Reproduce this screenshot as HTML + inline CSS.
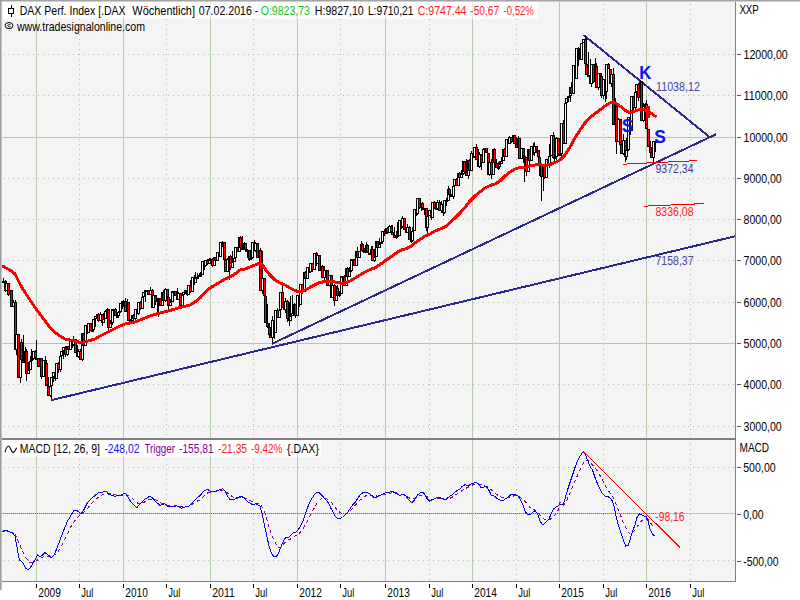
<!DOCTYPE html><html><head><meta charset="utf-8"><style>html,body{margin:0;padding:0;background:#fff}body{width:800px;height:600px;overflow:hidden}</style></head><body><svg width="800" height="600" viewBox="0 0 800 600" style="display:block;font-family:'Liberation Sans',sans-serif">
<rect width="800" height="600" fill="#ffffff"/>
<rect x="2" y="2" width="733" height="579" fill="#f4f4f4"/>
<rect x="3" y="2" width="534.5" height="16.5" fill="#ffffff"/>
<rect x="3" y="440" width="318" height="16.5" fill="#ffffff"/>
<g shape-rendering="crispEdges">
<rect x="36" y="2" width="1" height="579" fill="#b4c9ae"/>
<rect x="123" y="2" width="1" height="579" fill="#b4c9ae"/>
<rect x="210" y="2" width="1" height="579" fill="#b4c9ae"/>
<rect x="297" y="2" width="1" height="579" fill="#b4c9ae"/>
<rect x="385" y="2" width="1" height="579" fill="#b4c9ae"/>
<rect x="472" y="2" width="1" height="579" fill="#b4c9ae"/>
<rect x="559" y="2" width="1" height="579" fill="#b4c9ae"/>
<rect x="646" y="2" width="1" height="579" fill="#b4c9ae"/>
<line x1="79.5" y1="4" x2="79.5" y2="581" stroke="#a6c29f" stroke-width="1" stroke-dasharray="1 4"/>
<line x1="166.5" y1="4" x2="166.5" y2="581" stroke="#a6c29f" stroke-width="1" stroke-dasharray="1 4"/>
<line x1="253.5" y1="4" x2="253.5" y2="581" stroke="#a6c29f" stroke-width="1" stroke-dasharray="1 4"/>
<line x1="340.5" y1="4" x2="340.5" y2="581" stroke="#a6c29f" stroke-width="1" stroke-dasharray="1 4"/>
<line x1="429.5" y1="4" x2="429.5" y2="581" stroke="#a6c29f" stroke-width="1" stroke-dasharray="1 4"/>
<line x1="516.5" y1="4" x2="516.5" y2="581" stroke="#a6c29f" stroke-width="1" stroke-dasharray="1 4"/>
<line x1="603.5" y1="4" x2="603.5" y2="581" stroke="#a6c29f" stroke-width="1" stroke-dasharray="1 4"/>
<line x1="690.5" y1="4" x2="690.5" y2="581" stroke="#a6c29f" stroke-width="1" stroke-dasharray="1 4"/>
<line x1="3" y1="54.5" x2="735" y2="54.5" stroke="#a6c29f" stroke-width="1" stroke-dasharray="1 4"/>
<line x1="3" y1="95.5" x2="735" y2="95.5" stroke="#a6c29f" stroke-width="1" stroke-dasharray="1 4"/>
<rect x="2" y="137" width="733" height="1" fill="#b4c9ae"/>
<line x1="3" y1="178.5" x2="735" y2="178.5" stroke="#a6c29f" stroke-width="1" stroke-dasharray="1 4"/>
<line x1="3" y1="219.5" x2="735" y2="219.5" stroke="#a6c29f" stroke-width="1" stroke-dasharray="1 4"/>
<line x1="3" y1="260.5" x2="735" y2="260.5" stroke="#a6c29f" stroke-width="1" stroke-dasharray="1 4"/>
<line x1="3" y1="302.5" x2="735" y2="302.5" stroke="#a6c29f" stroke-width="1" stroke-dasharray="1 4"/>
<rect x="2" y="343" width="733" height="1" fill="#b4c9ae"/>
<line x1="3" y1="384.5" x2="735" y2="384.5" stroke="#a6c29f" stroke-width="1" stroke-dasharray="1 4"/>
<line x1="3" y1="426.5" x2="735" y2="426.5" stroke="#a6c29f" stroke-width="1" stroke-dasharray="1 4"/>
<line x1="3" y1="467.5" x2="735" y2="467.5" stroke="#a6c29f" stroke-width="1" stroke-dasharray="1 4"/>
<rect x="2" y="513" width="733" height="1" fill="#b4c9ae"/>
<line x1="3" y1="513.5" x2="656" y2="513.5" stroke="#707070" stroke-width="1" stroke-dasharray="1 1"/>
<line x1="3" y1="560.5" x2="735" y2="560.5" stroke="#a6c29f" stroke-width="1" stroke-dasharray="1 4"/>
</g>
<rect x="3" y="2" width="534.5" height="16.5" fill="#ffffff" opacity="0.7"/>
<rect x="3" y="440" width="318" height="16.5" fill="#ffffff" opacity="0.7"/>
<g stroke="#28288e" stroke-width="2" stroke-linecap="butt" fill="none" shape-rendering="crispEdges">
<line x1="51" y1="400.2" x2="735" y2="236.3"/>
<line x1="272" y1="343.8" x2="716" y2="134.3"/>
<line x1="583.5" y1="35" x2="709" y2="136.6"/>
</g>
<g shape-rendering="crispEdges">
<rect x="3" y="278" width="1" height="5" fill="#000"/>
<rect x="2" y="281" width="3" height="2" fill="#000"/>
<rect x="5" y="280" width="1" height="12" fill="#000"/>
<rect x="4" y="281" width="3" height="10" fill="#000"/>
<rect x="5" y="282" width="1" height="8" fill="#ff0000"/>
<rect x="6" y="283" width="1" height="8" fill="#000"/>
<rect x="5" y="283" width="3" height="8" fill="#000"/>
<rect x="6" y="284" width="1" height="6" fill="#ffffff"/>
<rect x="8" y="283" width="1" height="13" fill="#000"/>
<rect x="7" y="283" width="3" height="12" fill="#000"/>
<rect x="8" y="284" width="1" height="10" fill="#ff0000"/>
<rect x="10" y="290" width="1" height="6" fill="#000"/>
<rect x="9" y="290" width="3" height="5" fill="#000"/>
<rect x="10" y="291" width="1" height="3" fill="#ffffff"/>
<rect x="11" y="290" width="1" height="17" fill="#000"/>
<rect x="10" y="290" width="3" height="17" fill="#000"/>
<rect x="11" y="291" width="1" height="15" fill="#ff0000"/>
<rect x="13" y="300" width="1" height="7" fill="#000"/>
<rect x="12" y="302" width="3" height="5" fill="#000"/>
<rect x="13" y="303" width="1" height="3" fill="#ffffff"/>
<rect x="15" y="300" width="1" height="50" fill="#000"/>
<rect x="14" y="302" width="3" height="48" fill="#000"/>
<rect x="15" y="303" width="1" height="46" fill="#ff0000"/>
<rect x="16" y="316" width="1" height="39" fill="#000"/>
<rect x="15" y="334" width="3" height="16" fill="#000"/>
<rect x="16" y="335" width="1" height="14" fill="#ffffff"/>
<rect x="18" y="334" width="1" height="44" fill="#000"/>
<rect x="17" y="334" width="3" height="44" fill="#000"/>
<rect x="18" y="335" width="1" height="42" fill="#ff0000"/>
<rect x="20" y="342" width="1" height="41" fill="#000"/>
<rect x="19" y="342" width="3" height="36" fill="#000"/>
<rect x="20" y="343" width="1" height="34" fill="#ffffff"/>
<rect x="21" y="339" width="1" height="33" fill="#000"/>
<rect x="20" y="342" width="3" height="18" fill="#000"/>
<rect x="21" y="343" width="1" height="16" fill="#ff0000"/>
<rect x="23" y="335" width="1" height="28" fill="#000"/>
<rect x="22" y="360" width="3" height="3" fill="#000"/>
<rect x="23" y="361" width="1" height="1" fill="#ff0000"/>
<rect x="25" y="347" width="1" height="18" fill="#000"/>
<rect x="24" y="351" width="3" height="12" fill="#000"/>
<rect x="25" y="352" width="1" height="10" fill="#ffffff"/>
<rect x="26" y="349" width="1" height="32" fill="#000"/>
<rect x="25" y="351" width="3" height="23" fill="#000"/>
<rect x="26" y="352" width="1" height="21" fill="#ff0000"/>
<rect x="28" y="362" width="1" height="12" fill="#000"/>
<rect x="27" y="370" width="3" height="4" fill="#000"/>
<rect x="28" y="371" width="1" height="2" fill="#ffffff"/>
<rect x="30" y="356" width="1" height="14" fill="#000"/>
<rect x="29" y="361" width="3" height="9" fill="#000"/>
<rect x="30" y="362" width="1" height="7" fill="#ffffff"/>
<rect x="31" y="349" width="1" height="13" fill="#000"/>
<rect x="30" y="359" width="3" height="2" fill="#000"/>
<rect x="33" y="351" width="1" height="9" fill="#000"/>
<rect x="32" y="351" width="3" height="8" fill="#000"/>
<rect x="33" y="352" width="1" height="6" fill="#ffffff"/>
<rect x="35" y="350" width="1" height="8" fill="#000"/>
<rect x="34" y="351" width="3" height="7" fill="#000"/>
<rect x="35" y="352" width="1" height="5" fill="#ff0000"/>
<rect x="36" y="340" width="1" height="20" fill="#000"/>
<rect x="35" y="358" width="3" height="2" fill="#000"/>
<rect x="38" y="358" width="1" height="9" fill="#000"/>
<rect x="37" y="358" width="3" height="9" fill="#000"/>
<rect x="38" y="359" width="1" height="7" fill="#ff0000"/>
<rect x="40" y="358" width="1" height="11" fill="#000"/>
<rect x="39" y="358" width="3" height="9" fill="#000"/>
<rect x="40" y="359" width="1" height="7" fill="#ffffff"/>
<rect x="41" y="358" width="1" height="21" fill="#000"/>
<rect x="40" y="358" width="3" height="19" fill="#000"/>
<rect x="41" y="359" width="1" height="17" fill="#ff0000"/>
<rect x="43" y="360" width="1" height="17" fill="#000"/>
<rect x="42" y="360" width="3" height="17" fill="#000"/>
<rect x="43" y="361" width="1" height="15" fill="#ffffff"/>
<rect x="45" y="356" width="1" height="20" fill="#000"/>
<rect x="44" y="360" width="3" height="3" fill="#000"/>
<rect x="45" y="361" width="1" height="1" fill="#ff0000"/>
<rect x="46" y="363" width="1" height="23" fill="#000"/>
<rect x="45" y="363" width="3" height="23" fill="#000"/>
<rect x="46" y="364" width="1" height="21" fill="#ff0000"/>
<rect x="48" y="377" width="1" height="19" fill="#000"/>
<rect x="47" y="386" width="3" height="10" fill="#000"/>
<rect x="48" y="387" width="1" height="8" fill="#ff0000"/>
<rect x="50" y="384" width="1" height="13" fill="#000"/>
<rect x="49" y="386" width="3" height="10" fill="#000"/>
<rect x="50" y="387" width="1" height="8" fill="#ffffff"/>
<rect x="51" y="377" width="1" height="22" fill="#000"/>
<rect x="50" y="377" width="3" height="9" fill="#000"/>
<rect x="51" y="378" width="1" height="7" fill="#ffffff"/>
<rect x="53" y="372" width="1" height="10" fill="#000"/>
<rect x="52" y="372" width="3" height="5" fill="#000"/>
<rect x="53" y="373" width="1" height="3" fill="#ffffff"/>
<rect x="55" y="371" width="1" height="10" fill="#000"/>
<rect x="54" y="372" width="3" height="7" fill="#000"/>
<rect x="55" y="373" width="1" height="5" fill="#ff0000"/>
<rect x="56" y="363" width="1" height="16" fill="#000"/>
<rect x="55" y="363" width="3" height="16" fill="#000"/>
<rect x="56" y="364" width="1" height="14" fill="#ffffff"/>
<rect x="58" y="362" width="1" height="11" fill="#000"/>
<rect x="57" y="363" width="3" height="7" fill="#000"/>
<rect x="58" y="364" width="1" height="5" fill="#ff0000"/>
<rect x="60" y="356" width="1" height="16" fill="#000"/>
<rect x="59" y="356" width="3" height="14" fill="#000"/>
<rect x="60" y="357" width="1" height="12" fill="#ffffff"/>
<rect x="61" y="351" width="1" height="13" fill="#000"/>
<rect x="60" y="351" width="3" height="5" fill="#000"/>
<rect x="61" y="352" width="1" height="3" fill="#ffffff"/>
<rect x="63" y="347" width="1" height="12" fill="#000"/>
<rect x="62" y="347" width="3" height="4" fill="#000"/>
<rect x="63" y="348" width="1" height="2" fill="#ffffff"/>
<rect x="65" y="346" width="1" height="11" fill="#000"/>
<rect x="64" y="347" width="3" height="8" fill="#000"/>
<rect x="65" y="348" width="1" height="6" fill="#ff0000"/>
<rect x="67" y="346" width="1" height="10" fill="#000"/>
<rect x="66" y="346" width="3" height="9" fill="#000"/>
<rect x="67" y="347" width="1" height="7" fill="#ffffff"/>
<rect x="68" y="346" width="1" height="4" fill="#000"/>
<rect x="67" y="346" width="3" height="4" fill="#000"/>
<rect x="68" y="347" width="1" height="2" fill="#ff0000"/>
<rect x="70" y="341" width="1" height="9" fill="#000"/>
<rect x="69" y="341" width="3" height="9" fill="#000"/>
<rect x="70" y="342" width="1" height="7" fill="#ffffff"/>
<rect x="72" y="340" width="1" height="8" fill="#000"/>
<rect x="71" y="341" width="3" height="4" fill="#000"/>
<rect x="72" y="342" width="1" height="2" fill="#ff0000"/>
<rect x="73" y="336" width="1" height="10" fill="#000"/>
<rect x="72" y="339" width="3" height="6" fill="#000"/>
<rect x="73" y="340" width="1" height="4" fill="#ffffff"/>
<rect x="75" y="339" width="1" height="14" fill="#000"/>
<rect x="74" y="339" width="3" height="14" fill="#000"/>
<rect x="75" y="340" width="1" height="12" fill="#ff0000"/>
<rect x="77" y="345" width="1" height="12" fill="#000"/>
<rect x="76" y="353" width="3" height="4" fill="#000"/>
<rect x="77" y="354" width="1" height="2" fill="#ff0000"/>
<rect x="78" y="349" width="1" height="9" fill="#000"/>
<rect x="77" y="351" width="3" height="6" fill="#000"/>
<rect x="78" y="352" width="1" height="4" fill="#ffffff"/>
<rect x="80" y="349" width="1" height="11" fill="#000"/>
<rect x="79" y="351" width="3" height="9" fill="#000"/>
<rect x="80" y="352" width="1" height="7" fill="#ff0000"/>
<rect x="82" y="333" width="1" height="28" fill="#000"/>
<rect x="81" y="333" width="3" height="27" fill="#000"/>
<rect x="82" y="334" width="1" height="25" fill="#ffffff"/>
<rect x="83" y="333" width="1" height="24" fill="#000"/>
<rect x="82" y="333" width="3" height="13" fill="#000"/>
<rect x="83" y="334" width="1" height="11" fill="#ff0000"/>
<rect x="85" y="325" width="1" height="21" fill="#000"/>
<rect x="84" y="325" width="3" height="21" fill="#000"/>
<rect x="85" y="326" width="1" height="19" fill="#ffffff"/>
<rect x="87" y="325" width="1" height="9" fill="#000"/>
<rect x="86" y="325" width="3" height="8" fill="#000"/>
<rect x="87" y="326" width="1" height="6" fill="#ff0000"/>
<rect x="88" y="323" width="1" height="10" fill="#000"/>
<rect x="87" y="323" width="3" height="10" fill="#000"/>
<rect x="88" y="324" width="1" height="8" fill="#ffffff"/>
<rect x="90" y="323" width="1" height="8" fill="#000"/>
<rect x="89" y="323" width="3" height="8" fill="#000"/>
<rect x="90" y="324" width="1" height="6" fill="#ff0000"/>
<rect x="92" y="328" width="1" height="4" fill="#000"/>
<rect x="91" y="330" width="3" height="2" fill="#000"/>
<rect x="93" y="319" width="1" height="11" fill="#000"/>
<rect x="92" y="319" width="3" height="11" fill="#000"/>
<rect x="93" y="320" width="1" height="9" fill="#ffffff"/>
<rect x="95" y="316" width="1" height="11" fill="#000"/>
<rect x="94" y="316" width="3" height="3" fill="#000"/>
<rect x="95" y="317" width="1" height="1" fill="#ffffff"/>
<rect x="97" y="314" width="1" height="7" fill="#000"/>
<rect x="96" y="314" width="3" height="2" fill="#000"/>
<rect x="98" y="313" width="1" height="9" fill="#000"/>
<rect x="97" y="314" width="3" height="7" fill="#000"/>
<rect x="98" y="315" width="1" height="5" fill="#ff0000"/>
<rect x="100" y="312" width="1" height="9" fill="#000"/>
<rect x="99" y="314" width="3" height="7" fill="#000"/>
<rect x="100" y="315" width="1" height="5" fill="#ffffff"/>
<rect x="102" y="314" width="1" height="12" fill="#000"/>
<rect x="101" y="314" width="3" height="9" fill="#000"/>
<rect x="102" y="315" width="1" height="7" fill="#ff0000"/>
<rect x="103" y="313" width="1" height="10" fill="#000"/>
<rect x="102" y="319" width="3" height="4" fill="#000"/>
<rect x="103" y="320" width="1" height="2" fill="#ffffff"/>
<rect x="105" y="310" width="1" height="9" fill="#000"/>
<rect x="104" y="311" width="3" height="8" fill="#000"/>
<rect x="105" y="312" width="1" height="6" fill="#ffffff"/>
<rect x="107" y="308" width="1" height="13" fill="#000"/>
<rect x="106" y="309" width="3" height="2" fill="#000"/>
<rect x="108" y="309" width="1" height="21" fill="#000"/>
<rect x="107" y="309" width="3" height="19" fill="#000"/>
<rect x="108" y="310" width="1" height="17" fill="#ff0000"/>
<rect x="110" y="320" width="1" height="8" fill="#000"/>
<rect x="109" y="323" width="3" height="5" fill="#000"/>
<rect x="110" y="324" width="1" height="3" fill="#ffffff"/>
<rect x="112" y="309" width="1" height="16" fill="#000"/>
<rect x="111" y="309" width="3" height="14" fill="#000"/>
<rect x="112" y="310" width="1" height="12" fill="#ffffff"/>
<rect x="113" y="309" width="1" height="5" fill="#000"/>
<rect x="112" y="309" width="3" height="2" fill="#000"/>
<rect x="115" y="308" width="1" height="8" fill="#000"/>
<rect x="114" y="309" width="3" height="7" fill="#000"/>
<rect x="115" y="310" width="1" height="5" fill="#ff0000"/>
<rect x="117" y="316" width="1" height="2" fill="#000"/>
<rect x="116" y="316" width="3" height="2" fill="#000"/>
<rect x="118" y="311" width="1" height="5" fill="#000"/>
<rect x="117" y="312" width="3" height="4" fill="#000"/>
<rect x="118" y="313" width="1" height="2" fill="#ffffff"/>
<rect x="120" y="303" width="1" height="10" fill="#000"/>
<rect x="119" y="303" width="3" height="9" fill="#000"/>
<rect x="120" y="304" width="1" height="7" fill="#ffffff"/>
<rect x="122" y="301" width="1" height="8" fill="#000"/>
<rect x="121" y="301" width="3" height="2" fill="#000"/>
<rect x="123" y="300" width="1" height="7" fill="#000"/>
<rect x="122" y="301" width="3" height="2" fill="#000"/>
<rect x="125" y="298" width="1" height="14" fill="#000"/>
<rect x="124" y="301" width="3" height="11" fill="#000"/>
<rect x="125" y="302" width="1" height="9" fill="#ff0000"/>
<rect x="127" y="299" width="1" height="13" fill="#000"/>
<rect x="126" y="302" width="3" height="10" fill="#000"/>
<rect x="127" y="303" width="1" height="8" fill="#ffffff"/>
<rect x="128" y="302" width="1" height="19" fill="#000"/>
<rect x="127" y="302" width="3" height="19" fill="#000"/>
<rect x="128" y="303" width="1" height="17" fill="#ff0000"/>
<rect x="130" y="319" width="1" height="4" fill="#000"/>
<rect x="129" y="321" width="3" height="2" fill="#000"/>
<rect x="132" y="315" width="1" height="7" fill="#000"/>
<rect x="131" y="315" width="3" height="6" fill="#000"/>
<rect x="132" y="316" width="1" height="4" fill="#ffffff"/>
<rect x="133" y="314" width="1" height="7" fill="#000"/>
<rect x="132" y="315" width="3" height="4" fill="#000"/>
<rect x="133" y="316" width="1" height="2" fill="#ff0000"/>
<rect x="135" y="309" width="1" height="11" fill="#000"/>
<rect x="134" y="309" width="3" height="10" fill="#000"/>
<rect x="135" y="310" width="1" height="8" fill="#ffffff"/>
<rect x="137" y="309" width="1" height="5" fill="#000"/>
<rect x="136" y="309" width="3" height="5" fill="#000"/>
<rect x="137" y="310" width="1" height="3" fill="#ff0000"/>
<rect x="138" y="302" width="1" height="13" fill="#000"/>
<rect x="137" y="302" width="3" height="12" fill="#000"/>
<rect x="138" y="303" width="1" height="10" fill="#ffffff"/>
<rect x="140" y="301" width="1" height="9" fill="#000"/>
<rect x="139" y="302" width="3" height="7" fill="#000"/>
<rect x="140" y="303" width="1" height="5" fill="#ff0000"/>
<rect x="142" y="297" width="1" height="12" fill="#000"/>
<rect x="141" y="297" width="3" height="12" fill="#000"/>
<rect x="142" y="298" width="1" height="10" fill="#ffffff"/>
<rect x="143" y="292" width="1" height="14" fill="#000"/>
<rect x="142" y="292" width="3" height="5" fill="#000"/>
<rect x="143" y="293" width="1" height="3" fill="#ffffff"/>
<rect x="145" y="290" width="1" height="12" fill="#000"/>
<rect x="144" y="290" width="3" height="2" fill="#000"/>
<rect x="147" y="290" width="1" height="4" fill="#000"/>
<rect x="146" y="290" width="3" height="2" fill="#000"/>
<rect x="148" y="290" width="1" height="5" fill="#000"/>
<rect x="147" y="291" width="3" height="4" fill="#000"/>
<rect x="148" y="292" width="1" height="2" fill="#ff0000"/>
<rect x="150" y="287" width="1" height="8" fill="#000"/>
<rect x="149" y="290" width="3" height="5" fill="#000"/>
<rect x="150" y="291" width="1" height="3" fill="#ffffff"/>
<rect x="152" y="289" width="1" height="19" fill="#000"/>
<rect x="151" y="290" width="3" height="18" fill="#000"/>
<rect x="152" y="291" width="1" height="16" fill="#ff0000"/>
<rect x="153" y="294" width="1" height="14" fill="#000"/>
<rect x="152" y="295" width="3" height="13" fill="#000"/>
<rect x="153" y="296" width="1" height="11" fill="#ffffff"/>
<rect x="155" y="295" width="1" height="10" fill="#000"/>
<rect x="154" y="295" width="3" height="7" fill="#000"/>
<rect x="155" y="296" width="1" height="5" fill="#ff0000"/>
<rect x="157" y="299" width="1" height="14" fill="#000"/>
<rect x="156" y="300" width="3" height="2" fill="#000"/>
<rect x="158" y="298" width="1" height="19" fill="#000"/>
<rect x="157" y="298" width="3" height="2" fill="#000"/>
<rect x="160" y="298" width="1" height="8" fill="#000"/>
<rect x="159" y="298" width="3" height="8" fill="#000"/>
<rect x="160" y="299" width="1" height="6" fill="#ff0000"/>
<rect x="162" y="292" width="1" height="14" fill="#000"/>
<rect x="161" y="292" width="3" height="14" fill="#000"/>
<rect x="162" y="293" width="1" height="12" fill="#ffffff"/>
<rect x="163" y="290" width="1" height="11" fill="#000"/>
<rect x="162" y="292" width="3" height="9" fill="#000"/>
<rect x="163" y="293" width="1" height="7" fill="#ff0000"/>
<rect x="165" y="288" width="1" height="14" fill="#000"/>
<rect x="164" y="289" width="3" height="12" fill="#000"/>
<rect x="165" y="290" width="1" height="10" fill="#ffffff"/>
<rect x="167" y="289" width="1" height="13" fill="#000"/>
<rect x="166" y="289" width="3" height="8" fill="#000"/>
<rect x="167" y="290" width="1" height="6" fill="#ff0000"/>
<rect x="168" y="296" width="1" height="13" fill="#000"/>
<rect x="167" y="297" width="3" height="9" fill="#000"/>
<rect x="168" y="298" width="1" height="7" fill="#ff0000"/>
<rect x="170" y="299" width="1" height="7" fill="#000"/>
<rect x="169" y="302" width="3" height="4" fill="#000"/>
<rect x="170" y="303" width="1" height="2" fill="#ffffff"/>
<rect x="172" y="291" width="1" height="11" fill="#000"/>
<rect x="171" y="291" width="3" height="11" fill="#000"/>
<rect x="172" y="292" width="1" height="9" fill="#ffffff"/>
<rect x="173" y="291" width="1" height="4" fill="#000"/>
<rect x="172" y="291" width="3" height="2" fill="#000"/>
<rect x="175" y="291" width="1" height="5" fill="#000"/>
<rect x="174" y="291" width="3" height="5" fill="#000"/>
<rect x="175" y="292" width="1" height="3" fill="#ff0000"/>
<rect x="177" y="288" width="1" height="12" fill="#000"/>
<rect x="176" y="296" width="3" height="4" fill="#000"/>
<rect x="177" y="297" width="1" height="2" fill="#ff0000"/>
<rect x="178" y="292" width="1" height="8" fill="#000"/>
<rect x="177" y="293" width="3" height="7" fill="#000"/>
<rect x="178" y="294" width="1" height="5" fill="#ffffff"/>
<rect x="180" y="293" width="1" height="16" fill="#000"/>
<rect x="179" y="293" width="3" height="13" fill="#000"/>
<rect x="180" y="294" width="1" height="11" fill="#ff0000"/>
<rect x="182" y="295" width="1" height="11" fill="#000"/>
<rect x="181" y="295" width="3" height="11" fill="#000"/>
<rect x="182" y="296" width="1" height="9" fill="#ffffff"/>
<rect x="183" y="292" width="1" height="5" fill="#000"/>
<rect x="182" y="292" width="3" height="3" fill="#000"/>
<rect x="183" y="293" width="1" height="1" fill="#ffffff"/>
<rect x="185" y="290" width="1" height="4" fill="#000"/>
<rect x="184" y="290" width="3" height="2" fill="#000"/>
<rect x="187" y="290" width="1" height="6" fill="#000"/>
<rect x="186" y="290" width="3" height="5" fill="#000"/>
<rect x="187" y="291" width="1" height="3" fill="#ff0000"/>
<rect x="188" y="285" width="1" height="10" fill="#000"/>
<rect x="187" y="285" width="3" height="10" fill="#000"/>
<rect x="188" y="286" width="1" height="8" fill="#ffffff"/>
<rect x="190" y="280" width="1" height="13" fill="#000"/>
<rect x="189" y="285" width="3" height="7" fill="#000"/>
<rect x="190" y="286" width="1" height="5" fill="#ff0000"/>
<rect x="192" y="277" width="1" height="15" fill="#000"/>
<rect x="191" y="277" width="3" height="15" fill="#000"/>
<rect x="192" y="278" width="1" height="13" fill="#ffffff"/>
<rect x="194" y="275" width="1" height="10" fill="#000"/>
<rect x="193" y="277" width="3" height="6" fill="#000"/>
<rect x="194" y="278" width="1" height="4" fill="#ff0000"/>
<rect x="195" y="272" width="1" height="11" fill="#000"/>
<rect x="194" y="278" width="3" height="5" fill="#000"/>
<rect x="195" y="279" width="1" height="3" fill="#ffffff"/>
<rect x="197" y="273" width="1" height="6" fill="#000"/>
<rect x="196" y="277" width="3" height="2" fill="#000"/>
<rect x="199" y="273" width="1" height="4" fill="#000"/>
<rect x="198" y="275" width="3" height="2" fill="#000"/>
<rect x="200" y="272" width="1" height="5" fill="#000"/>
<rect x="199" y="275" width="3" height="2" fill="#000"/>
<rect x="202" y="261" width="1" height="14" fill="#000"/>
<rect x="201" y="261" width="3" height="14" fill="#000"/>
<rect x="202" y="262" width="1" height="12" fill="#ffffff"/>
<rect x="204" y="261" width="1" height="9" fill="#000"/>
<rect x="203" y="261" width="3" height="5" fill="#000"/>
<rect x="204" y="262" width="1" height="3" fill="#ff0000"/>
<rect x="205" y="260" width="1" height="7" fill="#000"/>
<rect x="204" y="260" width="3" height="6" fill="#000"/>
<rect x="205" y="261" width="1" height="4" fill="#ffffff"/>
<rect x="207" y="259" width="1" height="6" fill="#000"/>
<rect x="206" y="260" width="3" height="4" fill="#000"/>
<rect x="207" y="261" width="1" height="2" fill="#ff0000"/>
<rect x="209" y="258" width="1" height="6" fill="#000"/>
<rect x="208" y="259" width="3" height="5" fill="#000"/>
<rect x="209" y="260" width="1" height="3" fill="#ffffff"/>
<rect x="210" y="258" width="1" height="4" fill="#000"/>
<rect x="209" y="259" width="3" height="2" fill="#000"/>
<rect x="212" y="258" width="1" height="9" fill="#000"/>
<rect x="211" y="259" width="3" height="7" fill="#000"/>
<rect x="212" y="260" width="1" height="5" fill="#ff0000"/>
<rect x="214" y="257" width="1" height="9" fill="#000"/>
<rect x="213" y="257" width="3" height="9" fill="#000"/>
<rect x="214" y="258" width="1" height="7" fill="#ffffff"/>
<rect x="215" y="257" width="1" height="5" fill="#000"/>
<rect x="214" y="257" width="3" height="4" fill="#000"/>
<rect x="215" y="258" width="1" height="2" fill="#ff0000"/>
<rect x="217" y="252" width="1" height="9" fill="#000"/>
<rect x="216" y="252" width="3" height="9" fill="#000"/>
<rect x="217" y="253" width="1" height="7" fill="#ffffff"/>
<rect x="219" y="250" width="1" height="7" fill="#000"/>
<rect x="218" y="252" width="3" height="5" fill="#000"/>
<rect x="219" y="253" width="1" height="3" fill="#ff0000"/>
<rect x="220" y="242" width="1" height="15" fill="#000"/>
<rect x="219" y="242" width="3" height="15" fill="#000"/>
<rect x="220" y="243" width="1" height="13" fill="#ffffff"/>
<rect x="222" y="241" width="1" height="6" fill="#000"/>
<rect x="221" y="242" width="3" height="2" fill="#000"/>
<rect x="224" y="242" width="1" height="18" fill="#000"/>
<rect x="223" y="242" width="3" height="18" fill="#000"/>
<rect x="224" y="243" width="1" height="16" fill="#ff0000"/>
<rect x="225" y="250" width="1" height="22" fill="#000"/>
<rect x="224" y="260" width="3" height="12" fill="#000"/>
<rect x="225" y="261" width="1" height="10" fill="#ff0000"/>
<rect x="227" y="258" width="1" height="14" fill="#000"/>
<rect x="226" y="259" width="3" height="13" fill="#000"/>
<rect x="227" y="260" width="1" height="11" fill="#ffffff"/>
<rect x="229" y="256" width="1" height="24" fill="#000"/>
<rect x="228" y="256" width="3" height="3" fill="#000"/>
<rect x="229" y="257" width="1" height="1" fill="#ffffff"/>
<rect x="230" y="255" width="1" height="15" fill="#000"/>
<rect x="229" y="256" width="3" height="12" fill="#000"/>
<rect x="230" y="257" width="1" height="10" fill="#ff0000"/>
<rect x="232" y="251" width="1" height="17" fill="#000"/>
<rect x="231" y="262" width="3" height="6" fill="#000"/>
<rect x="232" y="263" width="1" height="4" fill="#ffffff"/>
<rect x="234" y="256" width="1" height="6" fill="#000"/>
<rect x="233" y="258" width="3" height="4" fill="#000"/>
<rect x="234" y="259" width="1" height="2" fill="#ffffff"/>
<rect x="235" y="247" width="1" height="11" fill="#000"/>
<rect x="234" y="247" width="3" height="11" fill="#000"/>
<rect x="235" y="248" width="1" height="9" fill="#ffffff"/>
<rect x="237" y="247" width="1" height="5" fill="#000"/>
<rect x="236" y="247" width="3" height="5" fill="#000"/>
<rect x="237" y="248" width="1" height="3" fill="#ff0000"/>
<rect x="239" y="237" width="1" height="15" fill="#000"/>
<rect x="238" y="237" width="3" height="15" fill="#000"/>
<rect x="239" y="238" width="1" height="13" fill="#ffffff"/>
<rect x="240" y="236" width="1" height="12" fill="#000"/>
<rect x="239" y="237" width="3" height="11" fill="#000"/>
<rect x="240" y="238" width="1" height="9" fill="#ff0000"/>
<rect x="242" y="236" width="1" height="14" fill="#000"/>
<rect x="241" y="248" width="3" height="2" fill="#000"/>
<rect x="244" y="242" width="1" height="7" fill="#000"/>
<rect x="243" y="243" width="3" height="6" fill="#000"/>
<rect x="244" y="244" width="1" height="4" fill="#ffffff"/>
<rect x="245" y="243" width="1" height="9" fill="#000"/>
<rect x="244" y="243" width="3" height="7" fill="#000"/>
<rect x="245" y="244" width="1" height="5" fill="#ff0000"/>
<rect x="247" y="249" width="1" height="9" fill="#000"/>
<rect x="246" y="250" width="3" height="2" fill="#000"/>
<rect x="249" y="250" width="1" height="11" fill="#000"/>
<rect x="248" y="250" width="3" height="10" fill="#000"/>
<rect x="249" y="251" width="1" height="8" fill="#ff0000"/>
<rect x="250" y="256" width="1" height="4" fill="#000"/>
<rect x="249" y="258" width="3" height="2" fill="#000"/>
<rect x="252" y="242" width="1" height="17" fill="#000"/>
<rect x="251" y="242" width="3" height="16" fill="#000"/>
<rect x="252" y="243" width="1" height="14" fill="#ffffff"/>
<rect x="254" y="240" width="1" height="11" fill="#000"/>
<rect x="253" y="242" width="3" height="9" fill="#000"/>
<rect x="254" y="243" width="1" height="7" fill="#ff0000"/>
<rect x="255" y="243" width="1" height="9" fill="#000"/>
<rect x="254" y="243" width="3" height="8" fill="#000"/>
<rect x="255" y="244" width="1" height="6" fill="#ffffff"/>
<rect x="257" y="243" width="1" height="15" fill="#000"/>
<rect x="256" y="243" width="3" height="15" fill="#000"/>
<rect x="257" y="244" width="1" height="13" fill="#ff0000"/>
<rect x="259" y="250" width="1" height="12" fill="#000"/>
<rect x="258" y="250" width="3" height="8" fill="#000"/>
<rect x="259" y="251" width="1" height="6" fill="#ffffff"/>
<rect x="260" y="248" width="1" height="43" fill="#000"/>
<rect x="259" y="250" width="3" height="41" fill="#000"/>
<rect x="260" y="251" width="1" height="39" fill="#ff0000"/>
<rect x="262" y="251" width="1" height="43" fill="#000"/>
<rect x="261" y="278" width="3" height="13" fill="#000"/>
<rect x="262" y="279" width="1" height="11" fill="#ffffff"/>
<rect x="264" y="278" width="1" height="18" fill="#000"/>
<rect x="263" y="278" width="3" height="18" fill="#000"/>
<rect x="264" y="279" width="1" height="16" fill="#ff0000"/>
<rect x="265" y="296" width="1" height="27" fill="#000"/>
<rect x="264" y="296" width="3" height="27" fill="#000"/>
<rect x="265" y="297" width="1" height="25" fill="#ff0000"/>
<rect x="267" y="304" width="1" height="24" fill="#000"/>
<rect x="266" y="323" width="3" height="4" fill="#000"/>
<rect x="267" y="324" width="1" height="2" fill="#ff0000"/>
<rect x="269" y="323" width="1" height="12" fill="#000"/>
<rect x="268" y="327" width="3" height="8" fill="#000"/>
<rect x="269" y="328" width="1" height="6" fill="#ff0000"/>
<rect x="270" y="335" width="1" height="3" fill="#000"/>
<rect x="269" y="335" width="3" height="3" fill="#000"/>
<rect x="270" y="336" width="1" height="1" fill="#ff0000"/>
<rect x="272" y="316" width="1" height="27" fill="#000"/>
<rect x="271" y="320" width="3" height="18" fill="#000"/>
<rect x="272" y="321" width="1" height="16" fill="#ffffff"/>
<rect x="274" y="319" width="1" height="20" fill="#000"/>
<rect x="273" y="320" width="3" height="13" fill="#000"/>
<rect x="274" y="321" width="1" height="11" fill="#ff0000"/>
<rect x="275" y="310" width="1" height="23" fill="#000"/>
<rect x="274" y="310" width="3" height="23" fill="#000"/>
<rect x="275" y="311" width="1" height="21" fill="#ffffff"/>
<rect x="277" y="308" width="1" height="10" fill="#000"/>
<rect x="276" y="310" width="3" height="8" fill="#000"/>
<rect x="277" y="311" width="1" height="6" fill="#ff0000"/>
<rect x="279" y="310" width="1" height="8" fill="#000"/>
<rect x="278" y="310" width="3" height="8" fill="#000"/>
<rect x="279" y="311" width="1" height="6" fill="#ffffff"/>
<rect x="280" y="292" width="1" height="19" fill="#000"/>
<rect x="279" y="292" width="3" height="18" fill="#000"/>
<rect x="280" y="293" width="1" height="16" fill="#ffffff"/>
<rect x="282" y="286" width="1" height="22" fill="#000"/>
<rect x="281" y="292" width="3" height="16" fill="#000"/>
<rect x="282" y="293" width="1" height="14" fill="#ff0000"/>
<rect x="284" y="308" width="1" height="2" fill="#000"/>
<rect x="283" y="308" width="3" height="2" fill="#000"/>
<rect x="285" y="298" width="1" height="15" fill="#000"/>
<rect x="284" y="301" width="3" height="9" fill="#000"/>
<rect x="285" y="302" width="1" height="7" fill="#ffffff"/>
<rect x="287" y="300" width="1" height="22" fill="#000"/>
<rect x="286" y="301" width="3" height="18" fill="#000"/>
<rect x="287" y="302" width="1" height="16" fill="#ff0000"/>
<rect x="289" y="302" width="1" height="24" fill="#000"/>
<rect x="288" y="319" width="3" height="2" fill="#000"/>
<rect x="290" y="296" width="1" height="25" fill="#000"/>
<rect x="289" y="316" width="3" height="5" fill="#000"/>
<rect x="290" y="317" width="1" height="3" fill="#ffffff"/>
<rect x="292" y="295" width="1" height="21" fill="#000"/>
<rect x="291" y="313" width="3" height="3" fill="#000"/>
<rect x="292" y="314" width="1" height="1" fill="#ffffff"/>
<rect x="294" y="303" width="1" height="13" fill="#000"/>
<rect x="293" y="304" width="3" height="9" fill="#000"/>
<rect x="294" y="305" width="1" height="7" fill="#ffffff"/>
<rect x="295" y="304" width="1" height="14" fill="#000"/>
<rect x="294" y="304" width="3" height="12" fill="#000"/>
<rect x="295" y="305" width="1" height="10" fill="#ff0000"/>
<rect x="297" y="295" width="1" height="21" fill="#000"/>
<rect x="296" y="295" width="3" height="21" fill="#000"/>
<rect x="297" y="296" width="1" height="19" fill="#ffffff"/>
<rect x="299" y="294" width="1" height="13" fill="#000"/>
<rect x="298" y="295" width="3" height="10" fill="#000"/>
<rect x="299" y="296" width="1" height="8" fill="#ff0000"/>
<rect x="300" y="284" width="1" height="21" fill="#000"/>
<rect x="299" y="284" width="3" height="21" fill="#000"/>
<rect x="300" y="285" width="1" height="19" fill="#ffffff"/>
<rect x="302" y="284" width="1" height="10" fill="#000"/>
<rect x="301" y="284" width="3" height="8" fill="#000"/>
<rect x="302" y="285" width="1" height="6" fill="#ff0000"/>
<rect x="304" y="272" width="1" height="20" fill="#000"/>
<rect x="303" y="272" width="3" height="20" fill="#000"/>
<rect x="304" y="273" width="1" height="18" fill="#ffffff"/>
<rect x="305" y="271" width="1" height="11" fill="#000"/>
<rect x="304" y="272" width="3" height="7" fill="#000"/>
<rect x="305" y="273" width="1" height="5" fill="#ff0000"/>
<rect x="307" y="267" width="1" height="12" fill="#000"/>
<rect x="306" y="267" width="3" height="12" fill="#000"/>
<rect x="307" y="268" width="1" height="10" fill="#ffffff"/>
<rect x="309" y="267" width="1" height="6" fill="#000"/>
<rect x="308" y="267" width="3" height="5" fill="#000"/>
<rect x="309" y="268" width="1" height="3" fill="#ff0000"/>
<rect x="310" y="263" width="1" height="10" fill="#000"/>
<rect x="309" y="263" width="3" height="9" fill="#000"/>
<rect x="310" y="264" width="1" height="7" fill="#ffffff"/>
<rect x="312" y="263" width="1" height="9" fill="#000"/>
<rect x="311" y="263" width="3" height="7" fill="#000"/>
<rect x="312" y="264" width="1" height="5" fill="#ff0000"/>
<rect x="314" y="253" width="1" height="17" fill="#000"/>
<rect x="313" y="253" width="3" height="17" fill="#000"/>
<rect x="314" y="254" width="1" height="15" fill="#ffffff"/>
<rect x="316" y="252" width="1" height="14" fill="#000"/>
<rect x="315" y="253" width="3" height="11" fill="#000"/>
<rect x="316" y="254" width="1" height="9" fill="#ff0000"/>
<rect x="317" y="254" width="1" height="10" fill="#000"/>
<rect x="316" y="255" width="3" height="9" fill="#000"/>
<rect x="317" y="256" width="1" height="7" fill="#ffffff"/>
<rect x="319" y="255" width="1" height="16" fill="#000"/>
<rect x="318" y="255" width="3" height="16" fill="#000"/>
<rect x="319" y="256" width="1" height="14" fill="#ff0000"/>
<rect x="321" y="266" width="1" height="6" fill="#000"/>
<rect x="320" y="266" width="3" height="5" fill="#000"/>
<rect x="321" y="267" width="1" height="3" fill="#ffffff"/>
<rect x="322" y="265" width="1" height="13" fill="#000"/>
<rect x="321" y="266" width="3" height="12" fill="#000"/>
<rect x="322" y="267" width="1" height="10" fill="#ff0000"/>
<rect x="324" y="266" width="1" height="14" fill="#000"/>
<rect x="323" y="270" width="3" height="8" fill="#000"/>
<rect x="324" y="271" width="1" height="6" fill="#ffffff"/>
<rect x="326" y="270" width="1" height="4" fill="#000"/>
<rect x="325" y="270" width="3" height="2" fill="#000"/>
<rect x="327" y="270" width="1" height="16" fill="#000"/>
<rect x="326" y="270" width="3" height="16" fill="#000"/>
<rect x="327" y="271" width="1" height="14" fill="#ff0000"/>
<rect x="329" y="275" width="1" height="11" fill="#000"/>
<rect x="328" y="275" width="3" height="11" fill="#000"/>
<rect x="329" y="276" width="1" height="9" fill="#ffffff"/>
<rect x="331" y="275" width="1" height="23" fill="#000"/>
<rect x="330" y="275" width="3" height="23" fill="#000"/>
<rect x="331" y="276" width="1" height="21" fill="#ff0000"/>
<rect x="332" y="281" width="1" height="17" fill="#000"/>
<rect x="331" y="285" width="3" height="13" fill="#000"/>
<rect x="332" y="286" width="1" height="11" fill="#ffffff"/>
<rect x="334" y="284" width="1" height="22" fill="#000"/>
<rect x="333" y="285" width="3" height="16" fill="#000"/>
<rect x="334" y="286" width="1" height="14" fill="#ff0000"/>
<rect x="336" y="286" width="1" height="15" fill="#000"/>
<rect x="335" y="288" width="3" height="13" fill="#000"/>
<rect x="336" y="289" width="1" height="11" fill="#ffffff"/>
<rect x="337" y="285" width="1" height="13" fill="#000"/>
<rect x="336" y="288" width="3" height="8" fill="#000"/>
<rect x="337" y="289" width="1" height="6" fill="#ff0000"/>
<rect x="339" y="291" width="1" height="6" fill="#000"/>
<rect x="338" y="294" width="3" height="2" fill="#000"/>
<rect x="341" y="276" width="1" height="18" fill="#000"/>
<rect x="340" y="276" width="3" height="18" fill="#000"/>
<rect x="341" y="277" width="1" height="16" fill="#ffffff"/>
<rect x="342" y="276" width="1" height="6" fill="#000"/>
<rect x="341" y="276" width="3" height="2" fill="#000"/>
<rect x="344" y="275" width="1" height="11" fill="#000"/>
<rect x="343" y="277" width="3" height="9" fill="#000"/>
<rect x="344" y="278" width="1" height="7" fill="#ff0000"/>
<rect x="346" y="268" width="1" height="18" fill="#000"/>
<rect x="345" y="268" width="3" height="18" fill="#000"/>
<rect x="346" y="269" width="1" height="16" fill="#ffffff"/>
<rect x="347" y="267" width="1" height="12" fill="#000"/>
<rect x="346" y="268" width="3" height="9" fill="#000"/>
<rect x="347" y="269" width="1" height="7" fill="#ff0000"/>
<rect x="349" y="267" width="1" height="10" fill="#000"/>
<rect x="348" y="271" width="3" height="6" fill="#000"/>
<rect x="349" y="272" width="1" height="4" fill="#ffffff"/>
<rect x="351" y="259" width="1" height="13" fill="#000"/>
<rect x="350" y="259" width="3" height="12" fill="#000"/>
<rect x="351" y="260" width="1" height="10" fill="#ffffff"/>
<rect x="352" y="259" width="1" height="4" fill="#000"/>
<rect x="351" y="259" width="3" height="2" fill="#000"/>
<rect x="354" y="259" width="1" height="7" fill="#000"/>
<rect x="353" y="259" width="3" height="7" fill="#000"/>
<rect x="354" y="260" width="1" height="5" fill="#ff0000"/>
<rect x="356" y="251" width="1" height="15" fill="#000"/>
<rect x="355" y="251" width="3" height="15" fill="#000"/>
<rect x="356" y="252" width="1" height="13" fill="#ffffff"/>
<rect x="357" y="247" width="1" height="12" fill="#000"/>
<rect x="356" y="251" width="3" height="7" fill="#000"/>
<rect x="357" y="252" width="1" height="5" fill="#ff0000"/>
<rect x="359" y="251" width="1" height="7" fill="#000"/>
<rect x="358" y="251" width="3" height="7" fill="#000"/>
<rect x="359" y="252" width="1" height="5" fill="#ffffff"/>
<rect x="361" y="241" width="1" height="10" fill="#000"/>
<rect x="360" y="244" width="3" height="7" fill="#000"/>
<rect x="361" y="245" width="1" height="5" fill="#ffffff"/>
<rect x="362" y="243" width="1" height="9" fill="#000"/>
<rect x="361" y="244" width="3" height="7" fill="#000"/>
<rect x="362" y="245" width="1" height="5" fill="#ff0000"/>
<rect x="364" y="248" width="1" height="5" fill="#000"/>
<rect x="363" y="251" width="3" height="2" fill="#000"/>
<rect x="366" y="242" width="1" height="10" fill="#000"/>
<rect x="365" y="245" width="3" height="7" fill="#000"/>
<rect x="366" y="246" width="1" height="5" fill="#ffffff"/>
<rect x="367" y="244" width="1" height="9" fill="#000"/>
<rect x="366" y="245" width="3" height="8" fill="#000"/>
<rect x="367" y="246" width="1" height="6" fill="#ff0000"/>
<rect x="369" y="253" width="1" height="2" fill="#000"/>
<rect x="368" y="253" width="3" height="2" fill="#000"/>
<rect x="371" y="246" width="1" height="8" fill="#000"/>
<rect x="370" y="249" width="3" height="5" fill="#000"/>
<rect x="371" y="250" width="1" height="3" fill="#ffffff"/>
<rect x="372" y="246" width="1" height="15" fill="#000"/>
<rect x="371" y="249" width="3" height="12" fill="#000"/>
<rect x="372" y="250" width="1" height="10" fill="#ff0000"/>
<rect x="374" y="249" width="1" height="13" fill="#000"/>
<rect x="373" y="257" width="3" height="4" fill="#000"/>
<rect x="374" y="258" width="1" height="2" fill="#ffffff"/>
<rect x="376" y="241" width="1" height="16" fill="#000"/>
<rect x="375" y="241" width="3" height="16" fill="#000"/>
<rect x="376" y="242" width="1" height="14" fill="#ffffff"/>
<rect x="377" y="241" width="1" height="9" fill="#000"/>
<rect x="376" y="241" width="3" height="7" fill="#000"/>
<rect x="377" y="242" width="1" height="5" fill="#ff0000"/>
<rect x="379" y="238" width="1" height="10" fill="#000"/>
<rect x="378" y="244" width="3" height="4" fill="#000"/>
<rect x="379" y="245" width="1" height="2" fill="#ffffff"/>
<rect x="381" y="242" width="1" height="2" fill="#000"/>
<rect x="380" y="242" width="3" height="2" fill="#000"/>
<rect x="382" y="231" width="1" height="11" fill="#000"/>
<rect x="381" y="231" width="3" height="11" fill="#000"/>
<rect x="382" y="232" width="1" height="9" fill="#ffffff"/>
<rect x="384" y="229" width="1" height="7" fill="#000"/>
<rect x="383" y="231" width="3" height="3" fill="#000"/>
<rect x="384" y="232" width="1" height="1" fill="#ff0000"/>
<rect x="386" y="228" width="1" height="6" fill="#000"/>
<rect x="385" y="228" width="3" height="6" fill="#000"/>
<rect x="386" y="229" width="1" height="4" fill="#ffffff"/>
<rect x="387" y="227" width="1" height="7" fill="#000"/>
<rect x="386" y="228" width="3" height="5" fill="#000"/>
<rect x="387" y="229" width="1" height="3" fill="#ff0000"/>
<rect x="389" y="225" width="1" height="8" fill="#000"/>
<rect x="388" y="226" width="3" height="7" fill="#000"/>
<rect x="389" y="227" width="1" height="5" fill="#ffffff"/>
<rect x="391" y="225" width="1" height="8" fill="#000"/>
<rect x="390" y="226" width="3" height="6" fill="#000"/>
<rect x="391" y="227" width="1" height="4" fill="#ff0000"/>
<rect x="392" y="225" width="1" height="10" fill="#000"/>
<rect x="391" y="232" width="3" height="3" fill="#000"/>
<rect x="392" y="233" width="1" height="1" fill="#ff0000"/>
<rect x="394" y="227" width="1" height="11" fill="#000"/>
<rect x="393" y="235" width="3" height="3" fill="#000"/>
<rect x="394" y="236" width="1" height="1" fill="#ff0000"/>
<rect x="396" y="231" width="1" height="8" fill="#000"/>
<rect x="395" y="235" width="3" height="3" fill="#000"/>
<rect x="396" y="236" width="1" height="1" fill="#ffffff"/>
<rect x="397" y="222" width="1" height="15" fill="#000"/>
<rect x="396" y="235" width="3" height="2" fill="#000"/>
<rect x="399" y="220" width="1" height="16" fill="#000"/>
<rect x="398" y="220" width="3" height="16" fill="#000"/>
<rect x="399" y="221" width="1" height="14" fill="#ffffff"/>
<rect x="401" y="220" width="1" height="9" fill="#000"/>
<rect x="400" y="220" width="3" height="7" fill="#000"/>
<rect x="401" y="221" width="1" height="5" fill="#ff0000"/>
<rect x="402" y="216" width="1" height="12" fill="#000"/>
<rect x="401" y="218" width="3" height="9" fill="#000"/>
<rect x="402" y="219" width="1" height="7" fill="#ffffff"/>
<rect x="404" y="218" width="1" height="12" fill="#000"/>
<rect x="403" y="218" width="3" height="12" fill="#000"/>
<rect x="404" y="219" width="1" height="10" fill="#ff0000"/>
<rect x="406" y="230" width="1" height="3" fill="#000"/>
<rect x="405" y="230" width="3" height="3" fill="#000"/>
<rect x="406" y="231" width="1" height="1" fill="#ff0000"/>
<rect x="407" y="224" width="1" height="9" fill="#000"/>
<rect x="406" y="227" width="3" height="6" fill="#000"/>
<rect x="407" y="228" width="1" height="4" fill="#ffffff"/>
<rect x="409" y="226" width="1" height="14" fill="#000"/>
<rect x="408" y="227" width="3" height="13" fill="#000"/>
<rect x="409" y="228" width="1" height="11" fill="#ff0000"/>
<rect x="411" y="240" width="1" height="3" fill="#000"/>
<rect x="410" y="240" width="3" height="2" fill="#000"/>
<rect x="412" y="227" width="1" height="14" fill="#000"/>
<rect x="411" y="231" width="3" height="10" fill="#000"/>
<rect x="412" y="232" width="1" height="8" fill="#ffffff"/>
<rect x="414" y="209" width="1" height="22" fill="#000"/>
<rect x="413" y="209" width="3" height="22" fill="#000"/>
<rect x="414" y="210" width="1" height="20" fill="#ffffff"/>
<rect x="416" y="208" width="1" height="8" fill="#000"/>
<rect x="415" y="209" width="3" height="5" fill="#000"/>
<rect x="416" y="210" width="1" height="3" fill="#ff0000"/>
<rect x="417" y="198" width="1" height="17" fill="#000"/>
<rect x="416" y="198" width="3" height="16" fill="#000"/>
<rect x="417" y="199" width="1" height="14" fill="#ffffff"/>
<rect x="419" y="198" width="1" height="11" fill="#000"/>
<rect x="418" y="198" width="3" height="10" fill="#000"/>
<rect x="419" y="199" width="1" height="8" fill="#ff0000"/>
<rect x="421" y="203" width="1" height="8" fill="#000"/>
<rect x="420" y="203" width="3" height="5" fill="#000"/>
<rect x="421" y="204" width="1" height="3" fill="#ffffff"/>
<rect x="422" y="202" width="1" height="8" fill="#000"/>
<rect x="421" y="203" width="3" height="5" fill="#000"/>
<rect x="422" y="204" width="1" height="3" fill="#ff0000"/>
<rect x="424" y="208" width="1" height="7" fill="#000"/>
<rect x="423" y="208" width="3" height="2" fill="#000"/>
<rect x="426" y="208" width="1" height="23" fill="#000"/>
<rect x="425" y="208" width="3" height="20" fill="#000"/>
<rect x="426" y="209" width="1" height="18" fill="#ff0000"/>
<rect x="427" y="214" width="1" height="20" fill="#000"/>
<rect x="426" y="216" width="3" height="12" fill="#000"/>
<rect x="427" y="217" width="1" height="10" fill="#ffffff"/>
<rect x="429" y="210" width="1" height="6" fill="#000"/>
<rect x="428" y="210" width="3" height="6" fill="#000"/>
<rect x="429" y="211" width="1" height="4" fill="#ffffff"/>
<rect x="431" y="208" width="1" height="12" fill="#000"/>
<rect x="430" y="210" width="3" height="8" fill="#000"/>
<rect x="431" y="211" width="1" height="6" fill="#ff0000"/>
<rect x="432" y="202" width="1" height="16" fill="#000"/>
<rect x="431" y="202" width="3" height="16" fill="#000"/>
<rect x="432" y="203" width="1" height="14" fill="#ffffff"/>
<rect x="434" y="201" width="1" height="8" fill="#000"/>
<rect x="433" y="202" width="3" height="6" fill="#000"/>
<rect x="434" y="203" width="1" height="4" fill="#ff0000"/>
<rect x="436" y="202" width="1" height="8" fill="#000"/>
<rect x="435" y="208" width="3" height="2" fill="#000"/>
<rect x="437" y="200" width="1" height="10" fill="#000"/>
<rect x="436" y="202" width="3" height="7" fill="#000"/>
<rect x="437" y="203" width="1" height="5" fill="#ffffff"/>
<rect x="439" y="200" width="1" height="11" fill="#000"/>
<rect x="438" y="202" width="3" height="9" fill="#000"/>
<rect x="439" y="203" width="1" height="7" fill="#ff0000"/>
<rect x="441" y="201" width="1" height="12" fill="#000"/>
<rect x="440" y="204" width="3" height="7" fill="#000"/>
<rect x="441" y="205" width="1" height="5" fill="#ffffff"/>
<rect x="443" y="203" width="1" height="13" fill="#000"/>
<rect x="442" y="204" width="3" height="9" fill="#000"/>
<rect x="443" y="205" width="1" height="7" fill="#ff0000"/>
<rect x="444" y="200" width="1" height="14" fill="#000"/>
<rect x="443" y="200" width="3" height="13" fill="#000"/>
<rect x="444" y="201" width="1" height="11" fill="#ffffff"/>
<rect x="446" y="198" width="1" height="8" fill="#000"/>
<rect x="445" y="200" width="3" height="2" fill="#000"/>
<rect x="448" y="186" width="1" height="15" fill="#000"/>
<rect x="447" y="189" width="3" height="12" fill="#000"/>
<rect x="448" y="190" width="1" height="10" fill="#ffffff"/>
<rect x="449" y="188" width="1" height="7" fill="#000"/>
<rect x="448" y="189" width="3" height="6" fill="#000"/>
<rect x="449" y="190" width="1" height="4" fill="#ff0000"/>
<rect x="451" y="194" width="1" height="3" fill="#000"/>
<rect x="450" y="195" width="3" height="2" fill="#000"/>
<rect x="453" y="186" width="1" height="13" fill="#000"/>
<rect x="452" y="186" width="3" height="11" fill="#000"/>
<rect x="453" y="187" width="1" height="9" fill="#ffffff"/>
<rect x="454" y="179" width="1" height="10" fill="#000"/>
<rect x="453" y="179" width="3" height="7" fill="#000"/>
<rect x="454" y="180" width="1" height="5" fill="#ffffff"/>
<rect x="456" y="178" width="1" height="8" fill="#000"/>
<rect x="455" y="179" width="3" height="7" fill="#000"/>
<rect x="456" y="180" width="1" height="5" fill="#ff0000"/>
<rect x="458" y="173" width="1" height="13" fill="#000"/>
<rect x="457" y="173" width="3" height="13" fill="#000"/>
<rect x="458" y="174" width="1" height="11" fill="#ffffff"/>
<rect x="459" y="172" width="1" height="6" fill="#000"/>
<rect x="458" y="173" width="3" height="5" fill="#000"/>
<rect x="459" y="174" width="1" height="3" fill="#ff0000"/>
<rect x="461" y="170" width="1" height="8" fill="#000"/>
<rect x="460" y="174" width="3" height="4" fill="#000"/>
<rect x="461" y="175" width="1" height="2" fill="#ffffff"/>
<rect x="463" y="161" width="1" height="14" fill="#000"/>
<rect x="462" y="161" width="3" height="13" fill="#000"/>
<rect x="463" y="162" width="1" height="11" fill="#ffffff"/>
<rect x="464" y="161" width="1" height="11" fill="#000"/>
<rect x="463" y="161" width="3" height="11" fill="#000"/>
<rect x="464" y="162" width="1" height="9" fill="#ff0000"/>
<rect x="466" y="159" width="1" height="17" fill="#000"/>
<rect x="465" y="172" width="3" height="4" fill="#000"/>
<rect x="466" y="173" width="1" height="2" fill="#ff0000"/>
<rect x="468" y="160" width="1" height="19" fill="#000"/>
<rect x="467" y="160" width="3" height="16" fill="#000"/>
<rect x="468" y="161" width="1" height="14" fill="#ffffff"/>
<rect x="469" y="159" width="1" height="14" fill="#000"/>
<rect x="468" y="160" width="3" height="11" fill="#000"/>
<rect x="469" y="161" width="1" height="9" fill="#ff0000"/>
<rect x="471" y="151" width="1" height="20" fill="#000"/>
<rect x="470" y="153" width="3" height="18" fill="#000"/>
<rect x="471" y="154" width="1" height="16" fill="#ffffff"/>
<rect x="473" y="152" width="1" height="6" fill="#000"/>
<rect x="472" y="153" width="3" height="4" fill="#000"/>
<rect x="473" y="154" width="1" height="2" fill="#ff0000"/>
<rect x="474" y="147" width="1" height="11" fill="#000"/>
<rect x="473" y="147" width="3" height="10" fill="#000"/>
<rect x="474" y="148" width="1" height="8" fill="#ffffff"/>
<rect x="476" y="144" width="1" height="16" fill="#000"/>
<rect x="475" y="147" width="3" height="13" fill="#000"/>
<rect x="476" y="148" width="1" height="11" fill="#ff0000"/>
<rect x="478" y="149" width="1" height="18" fill="#000"/>
<rect x="477" y="160" width="3" height="7" fill="#000"/>
<rect x="478" y="161" width="1" height="5" fill="#ff0000"/>
<rect x="479" y="152" width="1" height="16" fill="#000"/>
<rect x="478" y="154" width="3" height="13" fill="#000"/>
<rect x="479" y="155" width="1" height="11" fill="#ffffff"/>
<rect x="481" y="154" width="1" height="16" fill="#000"/>
<rect x="480" y="154" width="3" height="9" fill="#000"/>
<rect x="481" y="155" width="1" height="7" fill="#ff0000"/>
<rect x="483" y="149" width="1" height="14" fill="#000"/>
<rect x="482" y="149" width="3" height="14" fill="#000"/>
<rect x="483" y="150" width="1" height="12" fill="#ffffff"/>
<rect x="484" y="148" width="1" height="5" fill="#000"/>
<rect x="483" y="148" width="3" height="2" fill="#000"/>
<rect x="486" y="148" width="1" height="5" fill="#000"/>
<rect x="485" y="148" width="3" height="5" fill="#000"/>
<rect x="486" y="149" width="1" height="3" fill="#ff0000"/>
<rect x="488" y="153" width="1" height="22" fill="#000"/>
<rect x="487" y="153" width="3" height="22" fill="#000"/>
<rect x="488" y="154" width="1" height="20" fill="#ff0000"/>
<rect x="489" y="162" width="1" height="14" fill="#000"/>
<rect x="488" y="162" width="3" height="13" fill="#000"/>
<rect x="489" y="163" width="1" height="11" fill="#ffffff"/>
<rect x="491" y="159" width="1" height="20" fill="#000"/>
<rect x="490" y="162" width="3" height="13" fill="#000"/>
<rect x="491" y="163" width="1" height="11" fill="#ff0000"/>
<rect x="493" y="149" width="1" height="26" fill="#000"/>
<rect x="492" y="149" width="3" height="26" fill="#000"/>
<rect x="493" y="150" width="1" height="24" fill="#ffffff"/>
<rect x="494" y="148" width="1" height="17" fill="#000"/>
<rect x="493" y="149" width="3" height="14" fill="#000"/>
<rect x="494" y="150" width="1" height="12" fill="#ff0000"/>
<rect x="496" y="159" width="1" height="9" fill="#000"/>
<rect x="495" y="163" width="3" height="5" fill="#000"/>
<rect x="496" y="164" width="1" height="3" fill="#ff0000"/>
<rect x="498" y="162" width="1" height="8" fill="#000"/>
<rect x="497" y="167" width="3" height="2" fill="#000"/>
<rect x="499" y="161" width="1" height="6" fill="#000"/>
<rect x="498" y="164" width="3" height="3" fill="#000"/>
<rect x="499" y="165" width="1" height="1" fill="#ffffff"/>
<rect x="501" y="157" width="1" height="7" fill="#000"/>
<rect x="500" y="161" width="3" height="3" fill="#000"/>
<rect x="501" y="162" width="1" height="1" fill="#ffffff"/>
<rect x="503" y="149" width="1" height="12" fill="#000"/>
<rect x="502" y="149" width="3" height="12" fill="#000"/>
<rect x="503" y="150" width="1" height="10" fill="#ffffff"/>
<rect x="504" y="148" width="1" height="9" fill="#000"/>
<rect x="503" y="149" width="3" height="8" fill="#000"/>
<rect x="504" y="150" width="1" height="6" fill="#ff0000"/>
<rect x="506" y="139" width="1" height="18" fill="#000"/>
<rect x="505" y="139" width="3" height="18" fill="#000"/>
<rect x="506" y="140" width="1" height="16" fill="#ffffff"/>
<rect x="508" y="139" width="1" height="5" fill="#000"/>
<rect x="507" y="139" width="3" height="5" fill="#000"/>
<rect x="508" y="140" width="1" height="3" fill="#ff0000"/>
<rect x="509" y="136" width="1" height="8" fill="#000"/>
<rect x="508" y="137" width="3" height="7" fill="#000"/>
<rect x="509" y="138" width="1" height="5" fill="#ffffff"/>
<rect x="511" y="137" width="1" height="6" fill="#000"/>
<rect x="510" y="137" width="3" height="5" fill="#000"/>
<rect x="511" y="138" width="1" height="3" fill="#ff0000"/>
<rect x="513" y="135" width="1" height="8" fill="#000"/>
<rect x="512" y="135" width="3" height="7" fill="#000"/>
<rect x="513" y="136" width="1" height="5" fill="#ffffff"/>
<rect x="514" y="135" width="1" height="9" fill="#000"/>
<rect x="513" y="135" width="3" height="9" fill="#000"/>
<rect x="514" y="136" width="1" height="7" fill="#ff0000"/>
<rect x="516" y="137" width="1" height="11" fill="#000"/>
<rect x="515" y="144" width="3" height="4" fill="#000"/>
<rect x="516" y="145" width="1" height="2" fill="#ff0000"/>
<rect x="518" y="136" width="1" height="13" fill="#000"/>
<rect x="517" y="138" width="3" height="10" fill="#000"/>
<rect x="518" y="139" width="1" height="8" fill="#ffffff"/>
<rect x="519" y="138" width="1" height="21" fill="#000"/>
<rect x="518" y="138" width="3" height="21" fill="#000"/>
<rect x="519" y="139" width="1" height="19" fill="#ff0000"/>
<rect x="521" y="148" width="1" height="11" fill="#000"/>
<rect x="520" y="148" width="3" height="11" fill="#000"/>
<rect x="521" y="149" width="1" height="9" fill="#ffffff"/>
<rect x="523" y="148" width="1" height="15" fill="#000"/>
<rect x="522" y="148" width="3" height="8" fill="#000"/>
<rect x="523" y="149" width="1" height="6" fill="#ff0000"/>
<rect x="524" y="154" width="1" height="28" fill="#000"/>
<rect x="523" y="156" width="3" height="2" fill="#000"/>
<rect x="526" y="157" width="1" height="19" fill="#000"/>
<rect x="525" y="157" width="3" height="15" fill="#000"/>
<rect x="526" y="158" width="1" height="13" fill="#ff0000"/>
<rect x="528" y="149" width="1" height="23" fill="#000"/>
<rect x="527" y="149" width="3" height="23" fill="#000"/>
<rect x="528" y="150" width="1" height="21" fill="#ffffff"/>
<rect x="529" y="149" width="1" height="12" fill="#000"/>
<rect x="528" y="149" width="3" height="12" fill="#000"/>
<rect x="529" y="150" width="1" height="10" fill="#ff0000"/>
<rect x="531" y="146" width="1" height="15" fill="#000"/>
<rect x="530" y="146" width="3" height="15" fill="#000"/>
<rect x="531" y="147" width="1" height="13" fill="#ffffff"/>
<rect x="533" y="143" width="1" height="12" fill="#000"/>
<rect x="532" y="146" width="3" height="7" fill="#000"/>
<rect x="533" y="147" width="1" height="5" fill="#ff0000"/>
<rect x="534" y="142" width="1" height="14" fill="#000"/>
<rect x="533" y="146" width="3" height="7" fill="#000"/>
<rect x="534" y="147" width="1" height="5" fill="#ffffff"/>
<rect x="536" y="146" width="1" height="7" fill="#000"/>
<rect x="535" y="146" width="3" height="4" fill="#000"/>
<rect x="536" y="147" width="1" height="2" fill="#ff0000"/>
<rect x="538" y="150" width="1" height="11" fill="#000"/>
<rect x="537" y="150" width="3" height="7" fill="#000"/>
<rect x="538" y="151" width="1" height="5" fill="#ff0000"/>
<rect x="539" y="157" width="1" height="19" fill="#000"/>
<rect x="538" y="157" width="3" height="9" fill="#000"/>
<rect x="539" y="158" width="1" height="7" fill="#ff0000"/>
<rect x="541" y="166" width="1" height="35" fill="#000"/>
<rect x="540" y="166" width="3" height="11" fill="#000"/>
<rect x="541" y="167" width="1" height="9" fill="#ff0000"/>
<rect x="543" y="166" width="1" height="25" fill="#000"/>
<rect x="542" y="166" width="3" height="11" fill="#000"/>
<rect x="543" y="167" width="1" height="9" fill="#ffffff"/>
<rect x="544" y="165" width="1" height="14" fill="#000"/>
<rect x="543" y="166" width="3" height="12" fill="#000"/>
<rect x="544" y="167" width="1" height="10" fill="#ff0000"/>
<rect x="546" y="159" width="1" height="19" fill="#000"/>
<rect x="545" y="159" width="3" height="19" fill="#000"/>
<rect x="546" y="160" width="1" height="17" fill="#ffffff"/>
<rect x="548" y="157" width="1" height="8" fill="#000"/>
<rect x="547" y="159" width="3" height="6" fill="#000"/>
<rect x="548" y="160" width="1" height="4" fill="#ff0000"/>
<rect x="549" y="144" width="1" height="24" fill="#000"/>
<rect x="548" y="156" width="3" height="9" fill="#000"/>
<rect x="549" y="157" width="1" height="7" fill="#ffffff"/>
<rect x="551" y="135" width="1" height="21" fill="#000"/>
<rect x="550" y="135" width="3" height="21" fill="#000"/>
<rect x="551" y="136" width="1" height="19" fill="#ffffff"/>
<rect x="553" y="132" width="1" height="26" fill="#000"/>
<rect x="552" y="135" width="3" height="23" fill="#000"/>
<rect x="553" y="136" width="1" height="21" fill="#ff0000"/>
<rect x="554" y="144" width="1" height="20" fill="#000"/>
<rect x="553" y="157" width="3" height="2" fill="#000"/>
<rect x="556" y="137" width="1" height="24" fill="#000"/>
<rect x="555" y="138" width="3" height="19" fill="#000"/>
<rect x="556" y="139" width="1" height="17" fill="#ffffff"/>
<rect x="558" y="138" width="1" height="16" fill="#000"/>
<rect x="557" y="138" width="3" height="16" fill="#000"/>
<rect x="558" y="139" width="1" height="14" fill="#ff0000"/>
<rect x="559" y="149" width="1" height="7" fill="#000"/>
<rect x="558" y="154" width="3" height="2" fill="#000"/>
<rect x="561" y="123" width="1" height="34" fill="#000"/>
<rect x="560" y="123" width="3" height="31" fill="#000"/>
<rect x="561" y="124" width="1" height="29" fill="#ffffff"/>
<rect x="563" y="120" width="1" height="24" fill="#000"/>
<rect x="562" y="123" width="3" height="21" fill="#000"/>
<rect x="563" y="124" width="1" height="19" fill="#ff0000"/>
<rect x="565" y="103" width="1" height="41" fill="#000"/>
<rect x="564" y="103" width="3" height="41" fill="#000"/>
<rect x="565" y="104" width="1" height="39" fill="#ffffff"/>
<rect x="566" y="98" width="1" height="5" fill="#000"/>
<rect x="565" y="98" width="3" height="5" fill="#000"/>
<rect x="566" y="99" width="1" height="3" fill="#ffffff"/>
<rect x="568" y="96" width="1" height="6" fill="#000"/>
<rect x="567" y="96" width="3" height="2" fill="#000"/>
<rect x="570" y="87" width="1" height="15" fill="#000"/>
<rect x="569" y="87" width="3" height="9" fill="#000"/>
<rect x="570" y="88" width="1" height="7" fill="#ffffff"/>
<rect x="571" y="82" width="1" height="14" fill="#000"/>
<rect x="570" y="87" width="3" height="7" fill="#000"/>
<rect x="571" y="88" width="1" height="5" fill="#ff0000"/>
<rect x="573" y="65" width="1" height="29" fill="#000"/>
<rect x="572" y="65" width="3" height="29" fill="#000"/>
<rect x="573" y="66" width="1" height="27" fill="#ffffff"/>
<rect x="575" y="65" width="1" height="14" fill="#000"/>
<rect x="574" y="65" width="3" height="14" fill="#000"/>
<rect x="575" y="66" width="1" height="12" fill="#ff0000"/>
<rect x="576" y="48" width="1" height="31" fill="#000"/>
<rect x="575" y="48" width="3" height="31" fill="#000"/>
<rect x="576" y="49" width="1" height="29" fill="#ffffff"/>
<rect x="578" y="47" width="1" height="19" fill="#000"/>
<rect x="577" y="48" width="3" height="2" fill="#000"/>
<rect x="580" y="49" width="1" height="11" fill="#000"/>
<rect x="579" y="49" width="3" height="11" fill="#000"/>
<rect x="580" y="50" width="1" height="9" fill="#ff0000"/>
<rect x="581" y="43" width="1" height="17" fill="#000"/>
<rect x="580" y="43" width="3" height="17" fill="#000"/>
<rect x="581" y="44" width="1" height="15" fill="#ffffff"/>
<rect x="583" y="39" width="1" height="4" fill="#000"/>
<rect x="582" y="39" width="3" height="4" fill="#000"/>
<rect x="583" y="40" width="1" height="2" fill="#ffffff"/>
<rect x="585" y="36" width="1" height="28" fill="#000"/>
<rect x="584" y="39" width="3" height="25" fill="#000"/>
<rect x="585" y="40" width="1" height="23" fill="#ff0000"/>
<rect x="586" y="64" width="1" height="11" fill="#000"/>
<rect x="585" y="64" width="3" height="11" fill="#000"/>
<rect x="586" y="65" width="1" height="9" fill="#ff0000"/>
<rect x="588" y="52" width="1" height="25" fill="#000"/>
<rect x="587" y="75" width="3" height="2" fill="#000"/>
<rect x="590" y="59" width="1" height="25" fill="#000"/>
<rect x="589" y="75" width="3" height="9" fill="#000"/>
<rect x="590" y="76" width="1" height="7" fill="#ff0000"/>
<rect x="591" y="64" width="1" height="23" fill="#000"/>
<rect x="590" y="64" width="3" height="20" fill="#000"/>
<rect x="591" y="65" width="1" height="18" fill="#ffffff"/>
<rect x="593" y="64" width="1" height="19" fill="#000"/>
<rect x="592" y="64" width="3" height="18" fill="#000"/>
<rect x="593" y="65" width="1" height="16" fill="#ff0000"/>
<rect x="595" y="58" width="1" height="24" fill="#000"/>
<rect x="594" y="66" width="3" height="16" fill="#000"/>
<rect x="595" y="67" width="1" height="14" fill="#ffffff"/>
<rect x="596" y="63" width="1" height="25" fill="#000"/>
<rect x="595" y="66" width="3" height="22" fill="#000"/>
<rect x="596" y="67" width="1" height="20" fill="#ff0000"/>
<rect x="598" y="73" width="1" height="17" fill="#000"/>
<rect x="597" y="73" width="3" height="15" fill="#000"/>
<rect x="598" y="74" width="1" height="13" fill="#ffffff"/>
<rect x="600" y="73" width="1" height="21" fill="#000"/>
<rect x="599" y="73" width="3" height="3" fill="#000"/>
<rect x="600" y="74" width="1" height="1" fill="#ff0000"/>
<rect x="601" y="76" width="1" height="22" fill="#000"/>
<rect x="600" y="76" width="3" height="20" fill="#000"/>
<rect x="601" y="77" width="1" height="18" fill="#ff0000"/>
<rect x="603" y="79" width="1" height="20" fill="#000"/>
<rect x="602" y="79" width="3" height="17" fill="#000"/>
<rect x="603" y="80" width="1" height="15" fill="#ffffff"/>
<rect x="605" y="75" width="1" height="27" fill="#000"/>
<rect x="604" y="79" width="3" height="13" fill="#000"/>
<rect x="605" y="80" width="1" height="11" fill="#ff0000"/>
<rect x="606" y="64" width="1" height="35" fill="#000"/>
<rect x="605" y="64" width="3" height="28" fill="#000"/>
<rect x="606" y="65" width="1" height="26" fill="#ffffff"/>
<rect x="608" y="63" width="1" height="6" fill="#000"/>
<rect x="607" y="64" width="3" height="5" fill="#000"/>
<rect x="608" y="65" width="1" height="3" fill="#ff0000"/>
<rect x="610" y="69" width="1" height="15" fill="#000"/>
<rect x="609" y="69" width="3" height="15" fill="#000"/>
<rect x="610" y="70" width="1" height="13" fill="#ff0000"/>
<rect x="611" y="72" width="1" height="15" fill="#000"/>
<rect x="610" y="74" width="3" height="10" fill="#000"/>
<rect x="611" y="75" width="1" height="8" fill="#ffffff"/>
<rect x="613" y="68" width="1" height="57" fill="#000"/>
<rect x="612" y="74" width="3" height="51" fill="#000"/>
<rect x="613" y="75" width="1" height="49" fill="#ff0000"/>
<rect x="615" y="98" width="1" height="28" fill="#000"/>
<rect x="614" y="106" width="3" height="19" fill="#000"/>
<rect x="615" y="107" width="1" height="17" fill="#ffffff"/>
<rect x="616" y="106" width="1" height="48" fill="#000"/>
<rect x="615" y="106" width="3" height="36" fill="#000"/>
<rect x="616" y="107" width="1" height="34" fill="#ff0000"/>
<rect x="618" y="118" width="1" height="24" fill="#000"/>
<rect x="617" y="119" width="3" height="23" fill="#000"/>
<rect x="618" y="120" width="1" height="21" fill="#ffffff"/>
<rect x="620" y="119" width="1" height="26" fill="#000"/>
<rect x="619" y="119" width="3" height="26" fill="#000"/>
<rect x="620" y="120" width="1" height="24" fill="#ff0000"/>
<rect x="621" y="130" width="1" height="24" fill="#000"/>
<rect x="620" y="145" width="3" height="9" fill="#000"/>
<rect x="621" y="146" width="1" height="7" fill="#ff0000"/>
<rect x="623" y="134" width="1" height="21" fill="#000"/>
<rect x="622" y="140" width="3" height="14" fill="#000"/>
<rect x="623" y="141" width="1" height="12" fill="#ffffff"/>
<rect x="625" y="140" width="1" height="22" fill="#000"/>
<rect x="624" y="140" width="3" height="17" fill="#000"/>
<rect x="625" y="141" width="1" height="15" fill="#ff0000"/>
<rect x="626" y="138" width="1" height="22" fill="#000"/>
<rect x="625" y="150" width="3" height="7" fill="#000"/>
<rect x="626" y="151" width="1" height="5" fill="#ffffff"/>
<rect x="628" y="117" width="1" height="34" fill="#000"/>
<rect x="627" y="117" width="3" height="33" fill="#000"/>
<rect x="628" y="118" width="1" height="31" fill="#ffffff"/>
<rect x="630" y="112" width="1" height="23" fill="#000"/>
<rect x="629" y="117" width="3" height="14" fill="#000"/>
<rect x="630" y="118" width="1" height="12" fill="#ff0000"/>
<rect x="631" y="96" width="1" height="35" fill="#000"/>
<rect x="630" y="96" width="3" height="35" fill="#000"/>
<rect x="631" y="97" width="1" height="33" fill="#ffffff"/>
<rect x="633" y="96" width="1" height="16" fill="#000"/>
<rect x="632" y="96" width="3" height="12" fill="#000"/>
<rect x="633" y="97" width="1" height="10" fill="#ff0000"/>
<rect x="635" y="92" width="1" height="17" fill="#000"/>
<rect x="634" y="92" width="3" height="16" fill="#000"/>
<rect x="635" y="93" width="1" height="14" fill="#ffffff"/>
<rect x="636" y="84" width="1" height="24" fill="#000"/>
<rect x="635" y="84" width="3" height="8" fill="#000"/>
<rect x="636" y="85" width="1" height="6" fill="#ffffff"/>
<rect x="638" y="83" width="1" height="18" fill="#000"/>
<rect x="637" y="84" width="3" height="14" fill="#000"/>
<rect x="638" y="85" width="1" height="12" fill="#ff0000"/>
<rect x="640" y="80" width="1" height="18" fill="#000"/>
<rect x="639" y="82" width="3" height="16" fill="#000"/>
<rect x="640" y="83" width="1" height="14" fill="#ffffff"/>
<rect x="641" y="82" width="1" height="39" fill="#000"/>
<rect x="640" y="82" width="3" height="39" fill="#000"/>
<rect x="641" y="83" width="1" height="37" fill="#ff0000"/>
<rect x="643" y="103" width="1" height="19" fill="#000"/>
<rect x="642" y="106" width="3" height="15" fill="#000"/>
<rect x="643" y="107" width="1" height="13" fill="#ffffff"/>
<rect x="645" y="103" width="1" height="3" fill="#000"/>
<rect x="644" y="104" width="3" height="2" fill="#000"/>
<rect x="646" y="100" width="1" height="29" fill="#000"/>
<rect x="645" y="104" width="3" height="25" fill="#000"/>
<rect x="646" y="105" width="1" height="23" fill="#ff0000"/>
<rect x="648" y="129" width="1" height="18" fill="#000"/>
<rect x="647" y="129" width="3" height="18" fill="#000"/>
<rect x="648" y="130" width="1" height="16" fill="#ff0000"/>
<rect x="650" y="141" width="1" height="12" fill="#000"/>
<rect x="649" y="147" width="3" height="6" fill="#000"/>
<rect x="650" y="148" width="1" height="4" fill="#ff0000"/>
<rect x="651" y="153" width="1" height="5" fill="#000"/>
<rect x="650" y="153" width="3" height="5" fill="#000"/>
<rect x="651" y="154" width="1" height="3" fill="#ff0000"/>
<rect x="653" y="141" width="1" height="21" fill="#000"/>
<rect x="652" y="141" width="3" height="17" fill="#000"/>
<rect x="653" y="142" width="1" height="15" fill="#ffffff"/>
<rect x="655" y="141" width="1" height="11" fill="#000"/>
<rect x="654" y="141" width="3" height="2" fill="#000"/>
<rect x="646" y="106" width="3" height="11" fill="#000"/><rect x="647" y="107" width="1" height="9" fill="#f0e040"/>
</g>
<polyline points="2.0,265.5 5.0,267.5 10.0,270.0 15.0,274.0 17.5,279.0 20.0,284.0 25.0,292.5 30.0,300.0 35.0,307.5 40.0,314.0 45.0,321.0 50.0,327.5 55.0,332.5 60.0,336.0 65.0,339.0 70.0,340.0 75.0,341.0 80.0,342.5 85.0,342.0 90.0,340.5 95.0,339.0 100.0,336.0 110.0,331.0 120.0,326.0 125.0,324.0 130.0,323.0 135.0,322.0 140.0,320.0 150.0,316.0 155.0,314.5 160.0,313.0 170.0,310.5 180.0,307.5 190.0,305.0 195.0,302.0 200.0,298.0 205.0,292.5 210.0,288.0 215.0,285.0 220.0,282.0 225.0,279.0 230.0,277.0 235.0,274.0 240.0,270.0 245.0,269.0 250.0,267.0 255.0,265.0 260.0,263.0 262.0,264.0 265.0,269.0 270.0,275.0 275.0,280.0 280.0,283.0 285.0,285.0 290.0,288.0 295.0,290.5 300.0,292.0 305.0,290.0 310.0,287.5 315.0,284.5 320.0,282.5 325.0,281.5 330.0,281.0 335.0,282.0 340.0,283.0 345.0,283.0 350.0,281.0 355.0,278.0 360.0,275.0 365.0,272.0 370.0,269.5 375.0,268.0 380.0,264.5 385.0,261.0 390.0,257.5 395.0,254.0 400.0,250.5 405.0,249.0 410.0,247.0 415.0,243.0 420.0,239.5 425.0,236.0 430.0,234.0 435.0,231.0 440.0,229.0 445.0,227.0 450.0,222.5 455.0,218.0 460.0,213.0 465.0,207.5 470.0,201.0 475.0,196.0 480.0,192.0 485.0,188.0 490.0,185.5 495.0,184.0 500.0,181.0 505.0,176.0 510.0,172.0 515.0,169.0 520.0,167.5 525.0,167.5 530.0,166.0 535.0,165.0 540.0,164.5 545.0,166.0 550.0,164.5 555.0,162.5 560.0,160.0 565.0,155.0 570.0,147.0 575.0,138.0 580.0,130.0 585.0,123.0 590.0,117.5 595.0,113.5 600.0,110.0 605.0,106.0 610.0,103.0 612.5,102.0 615.0,103.0 620.0,106.0 625.0,110.5 630.0,112.5 635.0,111.0 640.0,109.5 645.0,109.5 650.0,112.5 655.0,116.0 656.5,117.0" fill="none" stroke="#ff0000" stroke-width="3" stroke-linejoin="round" stroke-linecap="butt" shape-rendering="crispEdges"/>
<g stroke="#ff0000" stroke-width="1" fill="none" shape-rendering="crispEdges">
<line x1="623" y1="164.2" x2="697" y2="160.6"/>
<line x1="643.5" y1="206.2" x2="704" y2="203.6"/>
<line x1="583" y1="451.3" x2="680" y2="547.5"/>
<rect x="646" y="106" width="3" height="11" fill="#000"/><rect x="647" y="107" width="1" height="9" fill="#f0e040"/>
</g>
<polyline points="2.0,531.8 10.0,532.0 15.0,533.8 18.8,542.5 22.5,551.2 26.2,558.0 30.0,562.5 33.8,563.0 37.5,560.0 41.2,558.0 45.0,556.2 48.8,556.2 52.5,556.2 56.2,553.8 60.0,548.8 63.8,541.2 67.5,533.8 71.2,526.2 75.0,520.5 78.8,516.2 82.5,513.8 86.2,510.0 90.0,505.5 93.8,501.2 97.5,498.0 101.2,495.5 105.0,493.8 108.8,493.0 112.5,493.8 116.2,495.0 120.0,495.5 123.8,495.0 127.5,495.0 131.2,497.5 135.0,501.2 138.8,503.8 142.5,503.0 146.2,501.2 150.0,499.2 153.8,499.0 157.5,500.5 161.2,503.0 165.0,504.5 168.8,505.5 172.5,506.0 176.2,506.0 180.0,506.5 183.8,507.0 187.5,506.8 191.2,505.0 195.0,502.0 200.0,500.0 203.8,496.2 207.5,493.0 211.2,492.0 215.0,491.8 218.8,491.2 222.5,490.5 226.2,492.0 230.0,495.0 233.8,497.5 237.5,498.0 241.2,497.5 245.0,498.0 248.8,500.0 252.5,502.0 256.2,503.0 260.0,504.5 263.8,508.8 266.2,517.5 270.0,530.0 273.8,540.0 277.5,546.2 280.0,548.0 283.8,543.8 287.5,540.0 291.2,538.8 295.0,536.2 298.8,533.8 302.5,529.5 306.2,523.8 310.0,516.2 313.8,508.8 317.5,502.5 321.2,498.8 325.0,498.0 328.8,500.0 332.5,503.8 336.2,508.8 340.0,512.5 343.8,514.5 347.5,513.0 351.2,510.0 355.0,505.5 358.8,501.2 362.5,498.0 366.2,495.5 370.0,495.0 373.8,495.5 377.5,496.2 381.2,495.5 385.0,494.5 388.8,493.8 392.5,492.5 396.2,492.5 400.0,494.5 403.8,495.0 407.5,497.0 411.2,498.8 415.0,498.8 418.8,496.2 422.5,495.0 426.2,496.2 430.0,498.8 433.8,499.5 437.5,498.8 441.2,498.0 445.0,499.2 448.8,498.8 452.5,497.0 456.2,494.5 460.0,492.0 463.8,489.5 467.5,487.5 471.2,485.5 475.0,484.0 478.8,483.8 482.5,485.5 486.2,486.2 490.0,488.8 493.8,492.0 497.5,495.0 501.2,497.0 505.0,498.0 508.8,497.5 512.5,496.2 516.2,495.5 520.0,497.0 523.8,500.0 527.5,504.5 531.2,508.8 535.0,510.0 538.8,513.8 542.5,518.0 546.2,520.5 550.0,519.5 553.8,516.2 557.5,512.5 560.0,502.5 563.8,505.5 567.5,498.8 571.2,490.0 575.0,481.2 578.8,472.5 582.5,465.0 585.0,460.5 587.5,460.0 590.0,462.5 593.8,466.2 597.5,471.2 601.2,477.5 605.0,485.0 608.8,491.2 612.5,496.2 616.2,504.5 620.0,513.8 623.8,523.8 627.5,531.2 630.5,534.5 633.8,531.2 637.5,526.2 641.2,521.2 645.0,518.8 648.0,519.5 651.2,523.8 654.5,528.0" fill="none" stroke="#8b008b" stroke-width="1" stroke-dasharray="3.5 3" shape-rendering="crispEdges"/>
<polyline points="2.0,531.2 6.2,530.5 12.5,533.0 15.0,536.2 17.5,550.0 19.5,560.0 22.5,562.5 26.2,568.8 28.8,569.5 31.2,566.2 35.0,560.0 37.5,555.0 40.0,557.0 42.5,555.0 45.0,552.5 48.8,555.5 51.2,557.5 53.8,555.5 56.2,550.0 60.0,540.0 63.8,530.0 67.5,521.2 71.2,515.0 73.8,510.5 77.0,510.5 79.5,512.5 81.2,513.8 83.8,510.0 87.5,502.5 91.2,498.8 95.0,495.5 98.8,492.5 101.2,493.0 105.0,491.2 107.0,492.0 108.8,494.5 112.5,495.5 115.0,496.2 118.8,495.5 122.5,494.5 125.0,493.0 127.5,496.2 131.2,502.5 135.0,506.2 137.0,507.5 140.0,503.8 143.8,500.0 147.5,497.5 150.0,496.2 152.5,498.0 156.2,502.0 160.0,505.5 162.5,504.5 165.0,503.8 167.5,506.2 171.2,507.0 175.0,505.8 178.0,506.2 181.2,508.2 185.0,507.0 188.8,506.2 192.5,502.5 196.2,498.8 200.0,495.5 203.8,491.2 207.5,489.2 211.2,491.8 215.0,491.2 218.8,490.0 222.5,488.8 225.0,491.2 227.5,496.2 230.5,500.0 233.8,499.5 237.5,497.5 241.2,496.2 245.0,498.8 248.8,502.5 252.5,504.5 256.2,503.8 260.0,506.2 262.5,515.0 265.5,530.0 268.8,545.0 271.2,552.5 273.8,556.8 276.2,557.0 278.8,552.5 281.2,546.2 283.8,540.0 286.2,537.0 288.8,537.5 291.2,534.5 293.8,532.5 296.2,532.0 298.8,528.8 301.2,525.0 303.8,518.8 306.2,511.2 308.8,504.5 311.2,499.5 313.8,495.5 316.2,492.5 318.8,492.5 321.2,494.5 323.8,497.5 326.2,500.0 328.8,503.8 331.2,508.8 333.8,513.8 336.2,517.5 338.8,518.8 342.5,517.5 345.0,515.0 347.5,512.5 350.0,508.8 352.5,505.0 355.0,502.5 357.5,498.8 360.0,495.0 362.5,493.0 366.2,492.5 370.0,493.8 372.5,496.2 375.0,498.0 377.5,496.2 381.2,495.0 385.0,493.0 388.8,492.5 392.5,491.2 395.0,493.0 397.5,494.5 400.0,495.5 403.0,493.8 406.2,496.2 408.8,500.0 411.8,502.5 414.5,500.0 417.5,495.0 420.5,492.5 423.8,493.0 426.2,497.5 429.5,501.2 432.5,499.5 436.2,498.0 440.0,497.5 442.5,498.8 445.0,500.0 448.8,497.0 452.5,494.5 456.2,491.2 460.0,488.8 462.5,486.2 465.5,484.5 468.0,486.2 471.2,483.8 474.2,483.0 476.2,482.0 478.8,485.0 481.2,487.5 483.8,487.0 486.2,486.2 488.8,490.0 491.2,495.0 494.5,496.2 497.5,498.8 500.0,500.0 503.8,500.0 507.5,497.5 511.2,494.5 515.0,494.5 517.5,495.5 520.0,498.8 522.5,503.8 525.0,511.2 528.0,515.0 531.2,513.8 535.0,510.5 537.5,513.8 540.0,521.2 543.0,525.0 546.2,522.0 548.8,519.5 551.2,513.8 553.8,508.8 556.2,507.0 560.0,504.5 563.0,505.0 565.0,498.8 567.5,490.0 570.0,482.5 572.5,475.0 575.0,467.5 577.5,461.2 580.0,456.2 583.0,451.8 585.0,453.8 587.5,460.0 590.0,466.2 592.5,470.0 595.0,477.5 597.5,483.8 600.0,488.8 602.5,493.8 605.0,496.2 607.5,496.2 610.0,498.0 612.5,501.2 614.5,507.5 616.2,517.5 618.8,526.2 621.2,533.8 623.8,541.2 625.8,546.2 628.0,545.5 630.0,540.0 632.5,531.2 635.0,525.0 637.0,517.5 639.5,513.8 642.0,515.0 644.5,516.2 646.2,516.2 648.0,521.2 650.0,528.8 652.5,533.8 654.5,536.2" fill="none" stroke="#0000ff" stroke-width="1" stroke-linejoin="round" shape-rendering="crispEdges"/>
<g shape-rendering="crispEdges">
<rect x="0" y="0" width="800" height="1" fill="#a4a4a4"/>
<rect x="0" y="1" width="800" height="1" fill="#cfcfcf"/>
<rect x="0" y="0" width="1" height="590" fill="#9c9c9c"/>
<rect x="1" y="1" width="1" height="589" fill="#c4c4c4"/>
<rect x="735" y="2" width="1" height="580" fill="#808080"/>
<rect x="2" y="581" width="734" height="1" fill="#808080"/>
<rect x="2" y="438" width="734" height="2" fill="#808080"/>
<rect x="737" y="54" width="4" height="1" fill="#585858"/>
<rect x="737" y="95" width="4" height="1" fill="#585858"/>
<rect x="737" y="137" width="4" height="1" fill="#585858"/>
<rect x="737" y="178" width="4" height="1" fill="#585858"/>
<rect x="737" y="219" width="4" height="1" fill="#585858"/>
<rect x="737" y="260" width="4" height="1" fill="#585858"/>
<rect x="737" y="302" width="4" height="1" fill="#585858"/>
<rect x="737" y="343" width="4" height="1" fill="#585858"/>
<rect x="737" y="384" width="4" height="1" fill="#585858"/>
<rect x="737" y="426" width="4" height="1" fill="#585858"/>
<rect x="737" y="467" width="4" height="1" fill="#585858"/>
<rect x="737" y="514" width="4" height="1" fill="#585858"/>
<rect x="737" y="561" width="4" height="1" fill="#585858"/>
<rect x="36" y="584" width="1" height="4" fill="#000"/>
<rect x="123" y="584" width="1" height="4" fill="#000"/>
<rect x="210" y="584" width="1" height="4" fill="#000"/>
<rect x="297" y="584" width="1" height="4" fill="#000"/>
<rect x="385" y="584" width="1" height="4" fill="#000"/>
<rect x="472" y="584" width="1" height="4" fill="#000"/>
<rect x="559" y="584" width="1" height="4" fill="#000"/>
<rect x="646" y="584" width="1" height="4" fill="#000"/>
<rect x="79" y="584" width="1" height="4" fill="#000"/>
<rect x="166" y="584" width="1" height="4" fill="#000"/>
<rect x="253" y="584" width="1" height="4" fill="#000"/>
<rect x="340" y="584" width="1" height="4" fill="#000"/>
<rect x="429" y="584" width="1" height="4" fill="#000"/>
<rect x="516" y="584" width="1" height="4" fill="#000"/>
<rect x="603" y="584" width="1" height="4" fill="#000"/>
<rect x="690" y="584" width="1" height="4" fill="#000"/>
</g>
<text x="743.50" y="58.8" font-size="12" fill="#000" textLength="44.24" lengthAdjust="spacingAndGlyphs" style="white-space:pre">12000,00</text>
<text x="743.50" y="99.8" font-size="12" fill="#000" textLength="44.23" lengthAdjust="spacingAndGlyphs" style="white-space:pre">11000,00</text>
<text x="743.50" y="141.8" font-size="12" fill="#000" textLength="44.24" lengthAdjust="spacingAndGlyphs" style="white-space:pre">10000,00</text>
<text x="743.50" y="182.8" font-size="12" fill="#000" textLength="38.25" lengthAdjust="spacingAndGlyphs" style="white-space:pre">9000,00</text>
<text x="743.50" y="223.8" font-size="12" fill="#000" textLength="38.25" lengthAdjust="spacingAndGlyphs" style="white-space:pre">8000,00</text>
<text x="743.50" y="264.8" font-size="12" fill="#000" textLength="38.25" lengthAdjust="spacingAndGlyphs" style="white-space:pre">7000,00</text>
<text x="743.50" y="306.8" font-size="12" fill="#000" textLength="38.25" lengthAdjust="spacingAndGlyphs" style="white-space:pre">6000,00</text>
<text x="743.50" y="347.8" font-size="12" fill="#000" textLength="38.25" lengthAdjust="spacingAndGlyphs" style="white-space:pre">5000,00</text>
<text x="743.50" y="388.8" font-size="12" fill="#000" textLength="38.25" lengthAdjust="spacingAndGlyphs" style="white-space:pre">4000,00</text>
<text x="743.50" y="430.8" font-size="12" fill="#000" textLength="38.25" lengthAdjust="spacingAndGlyphs" style="white-space:pre">3000,00</text>
<text x="739.40" y="13.9" font-size="12" fill="#000" textLength="19.41" lengthAdjust="spacingAndGlyphs" style="white-space:pre">XXP</text>
<text x="739.50" y="451.9" font-size="12" fill="#000" textLength="29.62" lengthAdjust="spacingAndGlyphs" style="white-space:pre">MACD</text>
<text x="743.20" y="471.7" font-size="12" fill="#000" textLength="32.51" lengthAdjust="spacingAndGlyphs" style="white-space:pre">500,00</text>
<text x="743.20" y="518.7" font-size="12" fill="#000" textLength="20.38" lengthAdjust="spacingAndGlyphs" style="white-space:pre">0,00</text>
<text x="743.20" y="565.7" font-size="12" fill="#000" textLength="35.41" lengthAdjust="spacingAndGlyphs" style="white-space:pre">-500,00</text>
<text x="38.30" y="596.6" font-size="12" fill="#000" textLength="22.51" lengthAdjust="spacingAndGlyphs" style="white-space:pre">2009</text>
<text x="125.30" y="596.6" font-size="12" fill="#000" textLength="22.51" lengthAdjust="spacingAndGlyphs" style="white-space:pre">2010</text>
<text x="212.30" y="596.6" font-size="12" fill="#000" textLength="22.49" lengthAdjust="spacingAndGlyphs" style="white-space:pre">2011</text>
<text x="299.30" y="596.6" font-size="12" fill="#000" textLength="22.51" lengthAdjust="spacingAndGlyphs" style="white-space:pre">2012</text>
<text x="387.30" y="596.6" font-size="12" fill="#000" textLength="22.51" lengthAdjust="spacingAndGlyphs" style="white-space:pre">2013</text>
<text x="474.30" y="596.6" font-size="12" fill="#000" textLength="22.51" lengthAdjust="spacingAndGlyphs" style="white-space:pre">2014</text>
<text x="561.30" y="596.6" font-size="12" fill="#000" textLength="22.51" lengthAdjust="spacingAndGlyphs" style="white-space:pre">2015</text>
<text x="648.30" y="596.6" font-size="12" fill="#000" textLength="22.51" lengthAdjust="spacingAndGlyphs" style="white-space:pre">2016</text>
<text x="81.30" y="596.6" font-size="12" fill="#000" textLength="12.02" lengthAdjust="spacingAndGlyphs" style="white-space:pre">Jul</text>
<text x="168.30" y="596.6" font-size="12" fill="#000" textLength="12.02" lengthAdjust="spacingAndGlyphs" style="white-space:pre">Jul</text>
<text x="255.30" y="596.6" font-size="12" fill="#000" textLength="12.02" lengthAdjust="spacingAndGlyphs" style="white-space:pre">Jul</text>
<text x="342.30" y="596.6" font-size="12" fill="#000" textLength="12.02" lengthAdjust="spacingAndGlyphs" style="white-space:pre">Jul</text>
<text x="431.30" y="596.6" font-size="12" fill="#000" textLength="12.02" lengthAdjust="spacingAndGlyphs" style="white-space:pre">Jul</text>
<text x="518.30" y="596.6" font-size="12" fill="#000" textLength="12.02" lengthAdjust="spacingAndGlyphs" style="white-space:pre">Jul</text>
<text x="605.30" y="596.6" font-size="12" fill="#000" textLength="12.02" lengthAdjust="spacingAndGlyphs" style="white-space:pre">Jul</text>
<text x="692.30" y="596.6" font-size="12" fill="#000" textLength="12.02" lengthAdjust="spacingAndGlyphs" style="white-space:pre">Jul</text>
<text x="19.75" y="14.5" font-size="12" fill="#000" textLength="105.87" lengthAdjust="spacingAndGlyphs" style="white-space:pre">DAX Perf. Index [.DAX</text>
<text x="132.30" y="14.5" font-size="12" fill="#000" textLength="62.71" lengthAdjust="spacingAndGlyphs" style="white-space:pre">Wöchentlich]</text>
<text x="198.80" y="14.5" font-size="12" fill="#000" textLength="53.10" lengthAdjust="spacingAndGlyphs" style="white-space:pre">07.02.2016</text>
<text x="254.80" y="14.5" font-size="12" fill="#000" textLength="3.30" lengthAdjust="spacingAndGlyphs" style="white-space:pre">-</text>
<text x="260.70" y="14.5" font-size="12" fill="#18c418" textLength="49.28" lengthAdjust="spacingAndGlyphs" style="white-space:pre">O:9823,73</text>
<text x="314.80" y="14.5" font-size="12" fill="#000" textLength="48.95" lengthAdjust="spacingAndGlyphs" style="white-space:pre">H:9827,10</text>
<text x="367.90" y="14.5" font-size="12" fill="#000" textLength="45.61" lengthAdjust="spacingAndGlyphs" style="white-space:pre">L:9710,21</text>
<text x="417.75" y="14.5" font-size="12" fill="#ff1c1c" textLength="48.75" lengthAdjust="spacingAndGlyphs" style="white-space:pre">C:9747,44</text>
<text x="470.30" y="14.5" font-size="12" fill="#ff1c1c" textLength="28.72" lengthAdjust="spacingAndGlyphs" style="white-space:pre">-50,67</text>
<text x="503.50" y="14.5" font-size="12" fill="#ff1c1c" textLength="30.27" lengthAdjust="spacingAndGlyphs" style="white-space:pre">-0,52%</text>
<text x="16.96" y="30.7" font-size="12" fill="#000" textLength="128.02" lengthAdjust="spacingAndGlyphs" style="white-space:pre">www.tradesignalonline.com</text>
<g fill="#000" shape-rendering="crispEdges"><rect x="8" y="8" width="6" height="6"/><rect x="9" y="9" width="4" height="4" fill="#fff"/><rect x="10.5" y="5" width="1" height="3"/><rect x="10.5" y="14" width="1" height="3"/></g>
<g stroke="#000" fill="none" stroke-width="1"><ellipse cx="9" cy="25.6" rx="3.9" ry="3.1"/><path d="M10.6,24.8 A1.7,1.1 0 1 0 10.6,26.5" stroke-width="0.9"/></g>
<path d="M5,452.3 C6.2,447.5 7.5,446 8.6,446 C10.2,446 11.2,452.4 13,452.4 C14.5,452.4 15.4,450 16.6,447.8" stroke="#000" fill="none" stroke-width="1.1"/>
<text x="19.75" y="452.7" font-size="12" fill="#000" textLength="80.23" lengthAdjust="spacingAndGlyphs" style="white-space:pre">MACD [12, 26, 9]</text>
<text x="104.40" y="452.7" font-size="12" fill="#1414ff" textLength="35.01" lengthAdjust="spacingAndGlyphs" style="white-space:pre">-248,02</text>
<text x="144.40" y="452.7" font-size="12" fill="#800090" textLength="30.60" lengthAdjust="spacingAndGlyphs" style="white-space:pre">Trigger</text>
<text x="179.00" y="452.7" font-size="12" fill="#800090" textLength="34.61" lengthAdjust="spacingAndGlyphs" style="white-space:pre">-155,81</text>
<text x="218.00" y="452.7" font-size="12" fill="#ff1c1c" textLength="29.02" lengthAdjust="spacingAndGlyphs" style="white-space:pre">-21,35</text>
<text x="251.00" y="452.7" font-size="12" fill="#ff1c1c" textLength="31.42" lengthAdjust="spacingAndGlyphs" style="white-space:pre">-9,42%</text>
<text x="287.00" y="452.7" font-size="12" fill="#000" textLength="32.02" lengthAdjust="spacingAndGlyphs" style="white-space:pre">{.DAX}</text>
<text x="639.20" y="78.8" font-size="18" fill="#1010f4" font-weight="bold" textLength="12.10" lengthAdjust="spacingAndGlyphs" style="white-space:pre">K</text>
<text x="621.80" y="131.6" font-size="18" fill="#1010f4" font-weight="bold" textLength="11.61" lengthAdjust="spacingAndGlyphs" style="white-space:pre">S</text>
<text x="654.20" y="143" font-size="18" fill="#1010f4" font-weight="bold" textLength="11.61" lengthAdjust="spacingAndGlyphs" style="white-space:pre">S</text>
<text x="656.00" y="91.3" font-size="12" fill="#4646a6" textLength="43.98" lengthAdjust="spacingAndGlyphs" style="white-space:pre">11038,12</text>
<text x="655.50" y="173.2" font-size="12" fill="#38389a" textLength="38.00" lengthAdjust="spacingAndGlyphs" style="white-space:pre">9372,34</text>
<text x="655.50" y="216" font-size="12" fill="#ff1c1c" textLength="38.00" lengthAdjust="spacingAndGlyphs" style="white-space:pre">8336,08</text>
<text x="655.50" y="264.6" font-size="12" fill="#4646a6" textLength="38.00" lengthAdjust="spacingAndGlyphs" style="white-space:pre">7158,37</text>
<text x="655.20" y="520.7" font-size="12" fill="#ff1c1c" textLength="29.32" lengthAdjust="spacingAndGlyphs" style="white-space:pre">-98,16</text>
</svg></body></html>
